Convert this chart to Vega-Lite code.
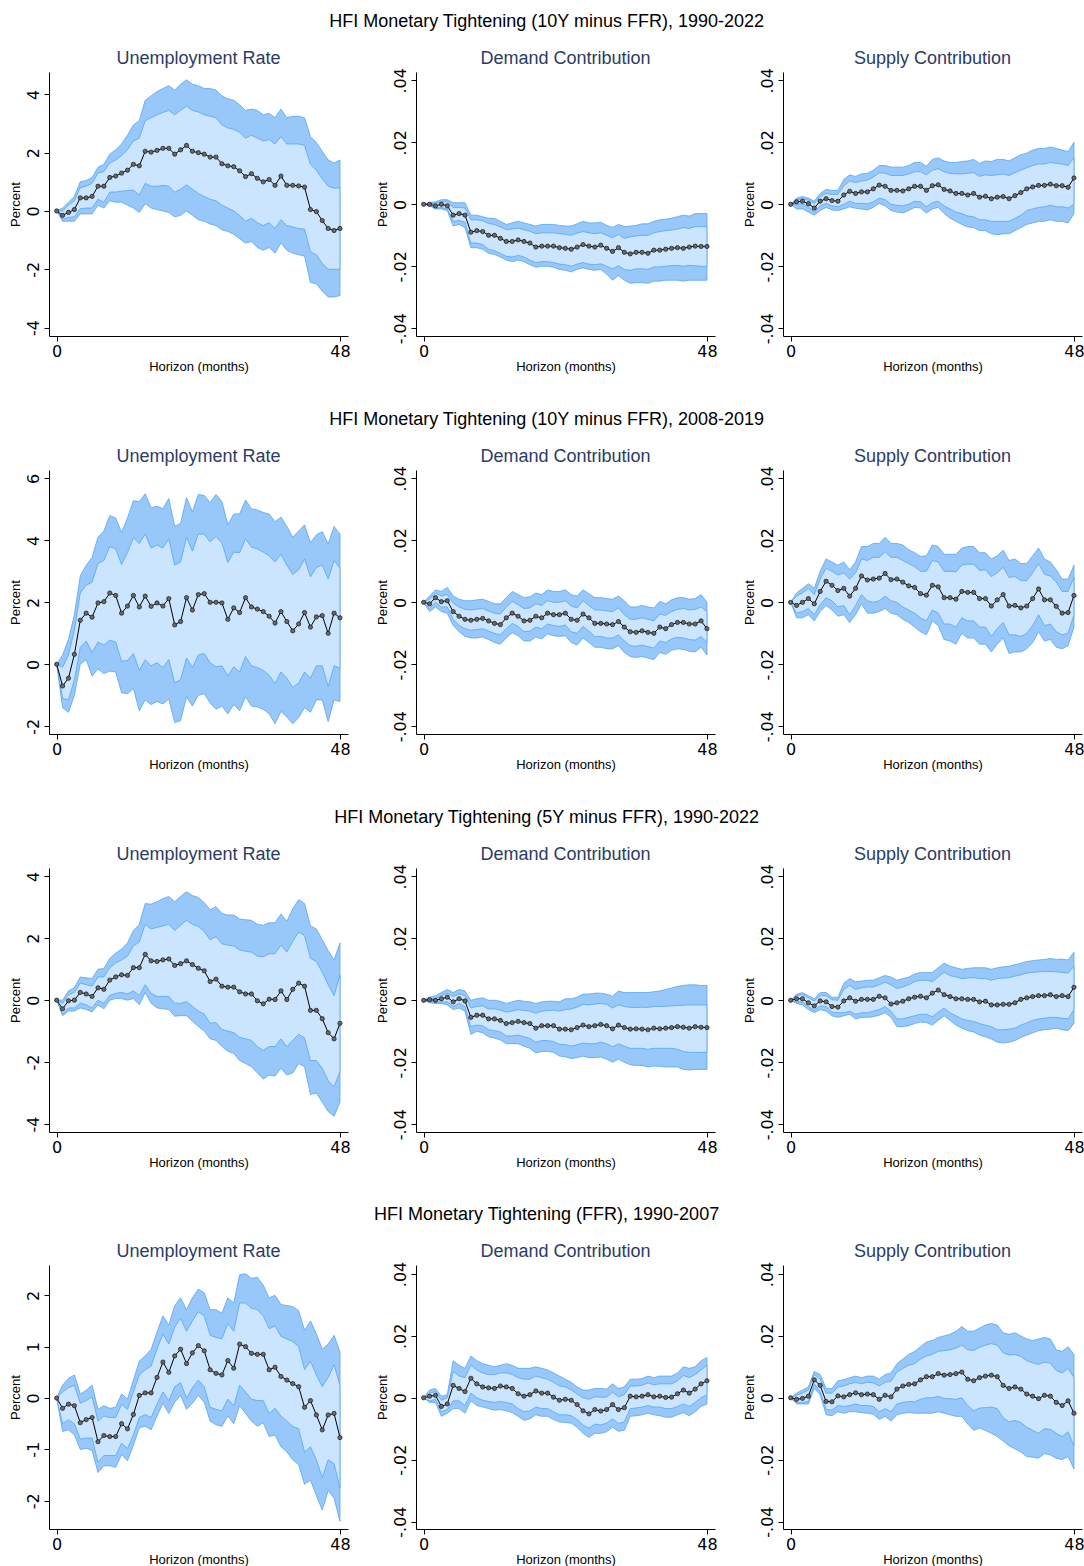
{
"$schema": "https://vega.github.io/schema/vega-lite/v6.json",
"background": "white",
"padding": {"left": 9, "top": 12, "right": 0, "bottom": 0},
"spacing": 37,
"config": {
 "font": "Liberation Sans",
 "view": {"stroke": null},
 "axis": {"grid": false, "domainColor": "#000", "tickColor": "#000", "labelColor": "#000", "titleColor": "#000", "titleFontWeight": "normal", "titleFont": "Liberation Sans", "titleFontSize": 13, "labelFont": "DejaVu Sans", "labelFontSize": 16, "tickSize": 5, "domainWidth": 1, "tickWidth": 1},
 "axisY": {"labelAngle": -90, "labelAlign": "center", "labelBaseline": "bottom", "labelPadding": 3, "titlePadding": 3},
 "axisX": {"labelPadding": 2, "titlePadding": 1, "labelFlush": false},
 "title": {"font": "Liberation Sans", "fontWeight": "normal", "fontSize": 18, "color": "#2a3b66", "offset": 0}
},
"datasets": {
"u1": [
{"h":0,"est":0,"lo90":0,"lo68":0,"hi68":0,"hi90":0},
{"h":1,"est":-0.15,"lo90":-0.35,"lo68":-0.28,"hi68":0,"hi90":0.1},
{"h":2,"est":-0.05,"lo90":-0.35,"lo68":-0.22,"hi68":0.2,"hi90":0.3},
{"h":3,"est":0.05,"lo90":-0.35,"lo68":-0.2,"hi68":0.35,"hi90":0.5},
{"h":4,"est":0.45,"lo90":-0.1,"lo68":0.08,"hi68":0.8,"hi90":1.0},
{"h":5,"est":0.45,"lo90":-0.1,"lo68":0.1,"hi68":0.85,"hi90":1.05},
{"h":6,"est":0.5,"lo90":-0.1,"lo68":0.1,"hi68":0.95,"hi90":1.15},
{"h":7,"est":0.85,"lo90":0.2,"lo68":0.4,"hi68":1.3,"hi90":1.5},
{"h":8,"est":0.85,"lo90":0.1,"lo68":0.3,"hi68":1.35,"hi90":1.6},
{"h":9,"est":1.15,"lo90":0.35,"lo68":0.65,"hi68":1.65,"hi90":1.95},
{"h":10,"est":1.2,"lo90":0.3,"lo68":0.65,"hi68":1.75,"hi90":2.1},
{"h":11,"est":1.3,"lo90":0.3,"lo68":0.68,"hi68":1.9,"hi90":2.3},
{"h":12,"est":1.4,"lo90":0.2,"lo68":0.7,"hi68":2.1,"hi90":2.6},
{"h":13,"est":1.6,"lo90":0.1,"lo68":0.72,"hi68":2.4,"hi90":2.95},
{"h":14,"est":1.55,"lo90":-0.05,"lo68":0.55,"hi68":2.5,"hi90":3.1},
{"h":15,"est":2.05,"lo90":0.25,"lo68":0.95,"hi68":3.1,"hi90":3.8},
{"h":16,"est":2.02,"lo90":0.1,"lo68":0.85,"hi68":3.2,"hi90":3.95},
{"h":17,"est":2.08,"lo90":0.05,"lo68":0.85,"hi68":3.3,"hi90":4.1},
{"h":18,"est":2.15,"lo90":0,"lo68":0.88,"hi68":3.38,"hi90":4.2},
{"h":19,"est":2.15,"lo90":-0.05,"lo68":0.85,"hi68":3.45,"hi90":4.3},
{"h":20,"est":1.95,"lo90":-0.2,"lo68":0.65,"hi68":3.3,"hi90":4.15},
{"h":21,"est":2.1,"lo90":-0.15,"lo68":0.75,"hi68":3.45,"hi90":4.35},
{"h":22,"est":2.25,"lo90":0,"lo68":0.9,"hi68":3.6,"hi90":4.5},
{"h":23,"est":2.05,"lo90":-0.15,"lo68":0.75,"hi68":3.45,"hi90":4.35},
{"h":24,"est":2.0,"lo90":-0.3,"lo68":0.6,"hi68":3.4,"hi90":4.3},
{"h":25,"est":1.95,"lo90":-0.35,"lo68":0.5,"hi68":3.3,"hi90":4.2},
{"h":26,"est":1.85,"lo90":-0.45,"lo68":0.4,"hi68":3.25,"hi90":4.2},
{"h":27,"est":1.85,"lo90":-0.5,"lo68":0.35,"hi68":3.2,"hi90":4.15},
{"h":28,"est":1.62,"lo90":-0.65,"lo68":0.2,"hi68":2.95,"hi90":3.95},
{"h":29,"est":1.55,"lo90":-0.7,"lo68":0.1,"hi68":2.85,"hi90":3.85},
{"h":30,"est":1.52,"lo90":-0.8,"lo68":0,"hi68":2.8,"hi90":3.8},
{"h":31,"est":1.38,"lo90":-0.95,"lo68":-0.15,"hi68":2.7,"hi90":3.65},
{"h":32,"est":1.18,"lo90":-1.1,"lo68":-0.35,"hi68":2.5,"hi90":3.45},
{"h":33,"est":1.28,"lo90":-1.05,"lo68":-0.25,"hi68":2.6,"hi90":3.5},
{"h":34,"est":1.12,"lo90":-1.25,"lo68":-0.4,"hi68":2.5,"hi90":3.45},
{"h":35,"est":1.0,"lo90":-1.35,"lo68":-0.5,"hi68":2.4,"hi90":3.3},
{"h":36,"est":1.08,"lo90":-1.25,"lo68":-0.4,"hi68":2.45,"hi90":3.35},
{"h":37,"est":0.88,"lo90":-1.45,"lo68":-0.6,"hi68":2.3,"hi90":3.2},
{"h":38,"est":1.2,"lo90":-1.1,"lo68":-0.3,"hi68":2.55,"hi90":3.5},
{"h":39,"est":0.88,"lo90":-1.35,"lo68":-0.5,"hi68":2.3,"hi90":3.2},
{"h":40,"est":0.88,"lo90":-1.45,"lo68":-0.55,"hi68":2.3,"hi90":3.25},
{"h":41,"est":0.86,"lo90":-1.5,"lo68":-0.6,"hi68":2.3,"hi90":3.25},
{"h":42,"est":0.82,"lo90":-1.55,"lo68":-0.62,"hi68":2.25,"hi90":3.2},
{"h":43,"est":0.05,"lo90":-2.45,"lo68":-1.4,"hi68":1.6,"hi90":2.55},
{"h":44,"est":-0.02,"lo90":-2.5,"lo68":-1.5,"hi68":1.4,"hi90":2.35},
{"h":45,"est":-0.33,"lo90":-2.75,"lo68":-1.8,"hi68":1.1,"hi90":2.05},
{"h":46,"est":-0.6,"lo90":-2.95,"lo68":-2.0,"hi68":0.85,"hi90":1.75},
{"h":47,"est":-0.67,"lo90":-2.95,"lo68":-2.0,"hi68":0.78,"hi90":1.65},
{"h":48,"est":-0.6,"lo90":-2.9,"lo68":-2.0,"hi68":0.8,"hi90":1.75}
],
"d1": [
{"h":0,"est":0,"lo90":0,"lo68":0,"hi68":0,"hi90":0},
{"h":1,"est":0,"lo90":-0.0005,"lo68":-0.0003,"hi68":0.0002,"hi90":0.0005},
{"h":2,"est":-0.0005,"lo90":-0.0015,"lo68":-0.0012,"hi68":0.0003,"hi90":0.0008},
{"h":3,"est":0,"lo90":-0.0015,"lo68":-0.001,"hi68":0.0008,"hi90":0.0015},
{"h":4,"est":-0.0005,"lo90":-0.002,"lo68":-0.0015,"hi68":0.0008,"hi90":0.0015},
{"h":5,"est":-0.0035,"lo90":-0.007,"lo68":-0.0055,"hi68":-0.001,"hi90":0.0005},
{"h":6,"est":-0.003,"lo90":-0.0065,"lo68":-0.0052,"hi68":-0.001,"hi90":0.0005},
{"h":7,"est":-0.0035,"lo90":-0.0075,"lo68":-0.0058,"hi68":-0.0012,"hi90":0.0005},
{"h":8,"est":-0.009,"lo90":-0.014,"lo68":-0.0125,"hi68":-0.005,"hi90":-0.0035},
{"h":9,"est":-0.0085,"lo90":-0.014,"lo68":-0.0125,"hi68":-0.005,"hi90":-0.0035},
{"h":10,"est":-0.0088,"lo90":-0.0145,"lo68":-0.013,"hi68":-0.0053,"hi90":-0.004},
{"h":11,"est":-0.01,"lo90":-0.0158,"lo68":-0.0145,"hi68":-0.0062,"hi90":-0.0045},
{"h":12,"est":-0.01,"lo90":-0.0162,"lo68":-0.015,"hi68":-0.0065,"hi90":-0.0045},
{"h":13,"est":-0.011,"lo90":-0.017,"lo68":-0.0158,"hi68":-0.0073,"hi90":-0.0055},
{"h":14,"est":-0.012,"lo90":-0.018,"lo68":-0.0168,"hi68":-0.0082,"hi90":-0.0065},
{"h":15,"est":-0.012,"lo90":-0.0185,"lo68":-0.017,"hi68":-0.008,"hi90":-0.006},
{"h":16,"est":-0.0115,"lo90":-0.018,"lo68":-0.0165,"hi68":-0.0077,"hi90":-0.0055},
{"h":17,"est":-0.012,"lo90":-0.0185,"lo68":-0.017,"hi68":-0.0082,"hi90":-0.006},
{"h":18,"est":-0.0125,"lo90":-0.0195,"lo68":-0.018,"hi68":-0.0087,"hi90":-0.0065},
{"h":19,"est":-0.0138,"lo90":-0.0203,"lo68":-0.0188,"hi68":-0.0095,"hi90":-0.007},
{"h":20,"est":-0.0135,"lo90":-0.02,"lo68":-0.0185,"hi68":-0.0092,"hi90":-0.0065},
{"h":21,"est":-0.0135,"lo90":-0.02,"lo68":-0.0185,"hi68":-0.0092,"hi90":-0.0065},
{"h":22,"est":-0.0135,"lo90":-0.0203,"lo68":-0.0188,"hi68":-0.0092,"hi90":-0.0065},
{"h":23,"est":-0.014,"lo90":-0.021,"lo68":-0.0193,"hi68":-0.0095,"hi90":-0.0068},
{"h":24,"est":-0.0142,"lo90":-0.0213,"lo68":-0.0195,"hi68":-0.0097,"hi90":-0.007},
{"h":25,"est":-0.0145,"lo90":-0.0218,"lo68":-0.02,"hi68":-0.01,"hi90":-0.007},
{"h":26,"est":-0.0138,"lo90":-0.021,"lo68":-0.0193,"hi68":-0.0093,"hi90":-0.0063},
{"h":27,"est":-0.013,"lo90":-0.0205,"lo68":-0.0188,"hi68":-0.0088,"hi90":-0.0055},
{"h":28,"est":-0.0135,"lo90":-0.021,"lo68":-0.0193,"hi68":-0.0092,"hi90":-0.006},
{"h":29,"est":-0.0138,"lo90":-0.0213,"lo68":-0.0195,"hi68":-0.0095,"hi90":-0.006},
{"h":30,"est":-0.0132,"lo90":-0.021,"lo68":-0.0192,"hi68":-0.0092,"hi90":-0.0058},
{"h":31,"est":-0.0142,"lo90":-0.0225,"lo68":-0.02,"hi68":-0.01,"hi90":-0.0068},
{"h":32,"est":-0.0152,"lo90":-0.0245,"lo68":-0.0208,"hi68":-0.0108,"hi90":-0.0075},
{"h":33,"est":-0.014,"lo90":-0.023,"lo68":-0.0198,"hi68":-0.0097,"hi90":-0.0065},
{"h":34,"est":-0.0155,"lo90":-0.0245,"lo68":-0.021,"hi68":-0.011,"hi90":-0.0072},
{"h":35,"est":-0.016,"lo90":-0.0255,"lo68":-0.0213,"hi68":-0.0105,"hi90":-0.007},
{"h":36,"est":-0.0155,"lo90":-0.0253,"lo68":-0.0208,"hi68":-0.0102,"hi90":-0.0068},
{"h":37,"est":-0.0155,"lo90":-0.0253,"lo68":-0.0208,"hi68":-0.01,"hi90":-0.0063},
{"h":38,"est":-0.0158,"lo90":-0.0255,"lo68":-0.021,"hi68":-0.01,"hi90":-0.0063},
{"h":39,"est":-0.0148,"lo90":-0.0248,"lo68":-0.0202,"hi68":-0.0092,"hi90":-0.0055},
{"h":40,"est":-0.0148,"lo90":-0.0248,"lo68":-0.0202,"hi68":-0.0088,"hi90":-0.005},
{"h":41,"est":-0.0145,"lo90":-0.0245,"lo68":-0.02,"hi68":-0.0085,"hi90":-0.0048},
{"h":42,"est":-0.0142,"lo90":-0.0245,"lo68":-0.0198,"hi68":-0.0083,"hi90":-0.0045},
{"h":43,"est":-0.014,"lo90":-0.0245,"lo68":-0.0197,"hi68":-0.008,"hi90":-0.004},
{"h":44,"est":-0.0142,"lo90":-0.0248,"lo68":-0.02,"hi68":-0.0075,"hi90":-0.0035},
{"h":45,"est":-0.0138,"lo90":-0.0245,"lo68":-0.0197,"hi68":-0.0078,"hi90":-0.0038},
{"h":46,"est":-0.0135,"lo90":-0.0245,"lo68":-0.0198,"hi68":-0.0072,"hi90":-0.003},
{"h":47,"est":-0.0136,"lo90":-0.0245,"lo68":-0.02,"hi68":-0.0072,"hi90":-0.003},
{"h":48,"est":-0.0136,"lo90":-0.0245,"lo68":-0.02,"hi68":-0.0072,"hi90":-0.003}
],
"s1": [
{"h":0,"est":0,"lo90":0,"lo68":0,"hi68":0,"hi90":0},
{"h":1,"est":0.0008,"lo90":-0.0015,"lo68":0,"hi68":0.0015,"hi90":0.002},
{"h":2,"est":0.001,"lo90":-0.0015,"lo68":0.0002,"hi68":0.0018,"hi90":0.0025},
{"h":3,"est":0.0002,"lo90":-0.0025,"lo68":-0.0008,"hi68":0.0013,"hi90":0.002},
{"h":4,"est":-0.0012,"lo90":-0.0035,"lo68":-0.0025,"hi68":0.0003,"hi90":0.001},
{"h":5,"est":0.001,"lo90":-0.002,"lo68":-0.0005,"hi68":0.0025,"hi90":0.0035},
{"h":6,"est":0.0018,"lo90":-0.001,"lo68":0.0003,"hi68":0.0035,"hi90":0.0048},
{"h":7,"est":0.0012,"lo90":-0.0018,"lo68":-0.0005,"hi68":0.0032,"hi90":0.0045},
{"h":8,"est":0.001,"lo90":-0.002,"lo68":-0.0008,"hi68":0.0032,"hi90":0.0045},
{"h":9,"est":0.003,"lo90":-0.0015,"lo68":0,"hi68":0.006,"hi90":0.008},
{"h":10,"est":0.0042,"lo90":-0.0008,"lo68":0.001,"hi68":0.0075,"hi90":0.0095},
{"h":11,"est":0.0035,"lo90":-0.0013,"lo68":0.0003,"hi68":0.007,"hi90":0.009},
{"h":12,"est":0.004,"lo90":-0.0015,"lo68":0.0003,"hi68":0.0075,"hi90":0.0098},
{"h":13,"est":0.004,"lo90":-0.0018,"lo68":0.0002,"hi68":0.0078,"hi90":0.01},
{"h":14,"est":0.005,"lo90":-0.001,"lo68":0.0008,"hi68":0.0088,"hi90":0.011},
{"h":15,"est":0.0062,"lo90":0.0003,"lo68":0.002,"hi68":0.0102,"hi90":0.0125},
{"h":16,"est":0.0058,"lo90":-0.0005,"lo68":0.0015,"hi68":0.01,"hi90":0.0125},
{"h":17,"est":0.0045,"lo90":-0.002,"lo68":0,"hi68":0.0093,"hi90":0.012},
{"h":18,"est":0.0045,"lo90":-0.0025,"lo68":-0.0003,"hi68":0.0093,"hi90":0.012},
{"h":19,"est":0.0043,"lo90":-0.0028,"lo68":-0.0005,"hi68":0.0093,"hi90":0.012},
{"h":20,"est":0.005,"lo90":-0.002,"lo68":0,"hi68":0.0098,"hi90":0.0125},
{"h":21,"est":0.0058,"lo90":-0.001,"lo68":0.001,"hi68":0.0105,"hi90":0.0135},
{"h":22,"est":0.0058,"lo90":-0.0012,"lo68":0.0008,"hi68":0.0105,"hi90":0.0135},
{"h":23,"est":0.0045,"lo90":-0.0028,"lo68":-0.0008,"hi68":0.0095,"hi90":0.0123},
{"h":24,"est":0.006,"lo90":-0.0015,"lo68":0.0005,"hi68":0.011,"hi90":0.0145},
{"h":25,"est":0.0063,"lo90":-0.001,"lo68":0.001,"hi68":0.0115,"hi90":0.015},
{"h":26,"est":0.0048,"lo90":-0.003,"lo68":-0.0005,"hi68":0.0105,"hi90":0.014},
{"h":27,"est":0.0043,"lo90":-0.0045,"lo68":-0.0015,"hi68":0.01,"hi90":0.0135},
{"h":28,"est":0.0035,"lo90":-0.0055,"lo68":-0.0025,"hi68":0.0098,"hi90":0.0135},
{"h":29,"est":0.0035,"lo90":-0.0065,"lo68":-0.003,"hi68":0.0098,"hi90":0.0138},
{"h":30,"est":0.003,"lo90":-0.0073,"lo68":-0.0038,"hi68":0.01,"hi90":0.014},
{"h":31,"est":0.0035,"lo90":-0.0075,"lo68":-0.004,"hi68":0.0102,"hi90":0.0145},
{"h":32,"est":0.0023,"lo90":-0.0085,"lo68":-0.005,"hi68":0.009,"hi90":0.0132},
{"h":33,"est":0.0026,"lo90":-0.0085,"lo68":-0.005,"hi68":0.0095,"hi90":0.014},
{"h":34,"est":0.0018,"lo90":-0.0095,"lo68":-0.0055,"hi68":0.0093,"hi90":0.0138},
{"h":35,"est":0.0023,"lo90":-0.0098,"lo68":-0.0055,"hi68":0.0095,"hi90":0.0145},
{"h":36,"est":0.0025,"lo90":-0.0095,"lo68":-0.0055,"hi68":0.0098,"hi90":0.0145},
{"h":37,"est":0.0018,"lo90":-0.0095,"lo68":-0.0055,"hi68":0.0093,"hi90":0.014},
{"h":38,"est":0.0028,"lo90":-0.0085,"lo68":-0.0045,"hi68":0.0102,"hi90":0.015},
{"h":39,"est":0.0038,"lo90":-0.0075,"lo68":-0.0035,"hi68":0.011,"hi90":0.016},
{"h":40,"est":0.005,"lo90":-0.0065,"lo68":-0.002,"hi68":0.0118,"hi90":0.0165},
{"h":41,"est":0.0056,"lo90":-0.006,"lo68":-0.0015,"hi68":0.0125,"hi90":0.0175},
{"h":42,"est":0.0061,"lo90":-0.0055,"lo68":-0.001,"hi68":0.013,"hi90":0.018},
{"h":43,"est":0.0061,"lo90":-0.0055,"lo68":-0.0008,"hi68":0.013,"hi90":0.018},
{"h":44,"est":0.0065,"lo90":-0.005,"lo68":-0.0003,"hi68":0.0135,"hi90":0.0185},
{"h":45,"est":0.006,"lo90":-0.0055,"lo68":-0.0008,"hi68":0.0132,"hi90":0.018},
{"h":46,"est":0.006,"lo90":-0.0055,"lo68":-0.0008,"hi68":0.013,"hi90":0.0175},
{"h":47,"est":0.0055,"lo90":-0.006,"lo68":-0.0012,"hi68":0.0125,"hi90":0.017},
{"h":48,"est":0.0085,"lo90":-0.003,"lo68":0,"hi68":0.015,"hi90":0.02}
],
"u2": [
{"h":0,"est":0,"lo90":0,"lo68":0,"hi68":0,"hi90":0},
{"h":1,"est":-0.7,"lo90":-1.4,"lo68":-1.1,"hi68":-0.1,"hi90":0.3},
{"h":2,"est":-0.45,"lo90":-1.55,"lo68":-1.15,"hi68":0.3,"hi90":0.8},
{"h":3,"est":0.32,"lo90":-1.0,"lo68":-0.5,"hi68":1.1,"hi90":1.6},
{"h":4,"est":1.42,"lo90":0,"lo68":0.55,"hi68":2.3,"hi90":2.85},
{"h":5,"est":1.65,"lo90":0.15,"lo68":0.75,"hi68":2.55,"hi90":3.2},
{"h":6,"est":1.52,"lo90":-0.38,"lo68":0.38,"hi68":2.65,"hi90":3.45},
{"h":7,"est":1.98,"lo90":-0.15,"lo68":0.72,"hi68":3.25,"hi90":4.1},
{"h":8,"est":2.02,"lo90":-0.3,"lo68":0.62,"hi68":3.35,"hi90":4.3},
{"h":9,"est":2.3,"lo90":-0.22,"lo68":0.78,"hi68":3.8,"hi90":4.8},
{"h":10,"est":2.22,"lo90":-0.25,"lo68":0.72,"hi68":3.72,"hi90":4.72},
{"h":11,"est":1.65,"lo90":-0.92,"lo68":0.1,"hi68":3.22,"hi90":4.25},
{"h":12,"est":1.88,"lo90":-0.95,"lo68":0.12,"hi68":3.6,"hi90":4.72},
{"h":13,"est":2.22,"lo90":-0.78,"lo68":0.35,"hi68":4.08,"hi90":5.28},
{"h":14,"est":1.85,"lo90":-1.5,"lo68":-0.2,"hi68":3.9,"hi90":5.25},
{"h":15,"est":2.2,"lo90":-1.15,"lo68":0.15,"hi68":4.2,"hi90":5.5},
{"h":16,"est":1.87,"lo90":-1.3,"lo68":-0.05,"hi68":3.75,"hi90":5.05},
{"h":17,"est":1.98,"lo90":-1.2,"lo68":0.05,"hi68":3.85,"hi90":5.1},
{"h":18,"est":1.88,"lo90":-1.28,"lo68":-0.1,"hi68":3.75,"hi90":5.02},
{"h":19,"est":2.12,"lo90":-1.12,"lo68":0.15,"hi68":4.05,"hi90":5.35},
{"h":20,"est":1.27,"lo90":-1.88,"lo68":-0.6,"hi68":3.2,"hi90":4.45},
{"h":21,"est":1.38,"lo90":-1.82,"lo68":-0.5,"hi68":3.3,"hi90":4.55},
{"h":22,"est":2.15,"lo90":-1.05,"lo68":0.2,"hi68":4.1,"hi90":5.38},
{"h":23,"est":1.75,"lo90":-1.35,"lo68":-0.1,"hi68":3.65,"hi90":4.92},
{"h":24,"est":2.25,"lo90":-1.0,"lo68":0.3,"hi68":4.2,"hi90":5.48},
{"h":25,"est":2.28,"lo90":-0.95,"lo68":0.35,"hi68":4.2,"hi90":5.45},
{"h":26,"est":2.0,"lo90":-1.25,"lo68":0.05,"hi68":3.95,"hi90":5.22},
{"h":27,"est":2.0,"lo90":-1.45,"lo68":-0.08,"hi68":4.12,"hi90":5.48},
{"h":28,"est":1.98,"lo90":-1.35,"lo68":-0.05,"hi68":3.92,"hi90":5.25},
{"h":29,"est":1.45,"lo90":-1.6,"lo68":-0.38,"hi68":3.28,"hi90":4.5},
{"h":30,"est":1.82,"lo90":-1.3,"lo68":-0.08,"hi68":3.62,"hi90":4.85},
{"h":31,"est":1.67,"lo90":-1.5,"lo68":-0.25,"hi68":3.6,"hi90":4.85},
{"h":32,"est":2.15,"lo90":-1.05,"lo68":0.25,"hi68":4.05,"hi90":5.3},
{"h":33,"est":1.85,"lo90":-1.35,"lo68":-0.05,"hi68":3.78,"hi90":5.02},
{"h":34,"est":1.78,"lo90":-1.38,"lo68":-0.1,"hi68":3.72,"hi90":4.98},
{"h":35,"est":1.7,"lo90":-1.45,"lo68":-0.2,"hi68":3.62,"hi90":4.9},
{"h":36,"est":1.55,"lo90":-1.6,"lo68":-0.35,"hi68":3.5,"hi90":4.85},
{"h":37,"est":1.33,"lo90":-1.92,"lo68":-0.62,"hi68":3.3,"hi90":4.6},
{"h":38,"est":1.7,"lo90":-1.52,"lo68":-0.25,"hi68":3.55,"hi90":4.75},
{"h":39,"est":1.38,"lo90":-1.7,"lo68":-0.45,"hi68":3.2,"hi90":4.45},
{"h":40,"est":1.08,"lo90":-1.92,"lo68":-0.75,"hi68":2.9,"hi90":4.1},
{"h":41,"est":1.3,"lo90":-1.72,"lo68":-0.6,"hi68":3.05,"hi90":4.3},
{"h":42,"est":1.67,"lo90":-1.4,"lo68":-0.25,"hi68":3.4,"hi90":4.5},
{"h":43,"est":1.2,"lo90":-1.55,"lo68":-0.45,"hi68":2.82,"hi90":3.92},
{"h":44,"est":1.53,"lo90":-1.15,"lo68":-0.05,"hi68":3.12,"hi90":4.18},
{"h":45,"est":1.57,"lo90":-1.15,"lo68":-0.05,"hi68":3.2,"hi90":4.28},
{"h":46,"est":1.0,"lo90":-1.85,"lo68":-0.72,"hi68":2.75,"hi90":3.88},
{"h":47,"est":1.65,"lo90":-1.15,"lo68":-0.05,"hi68":3.35,"hi90":4.45},
{"h":48,"est":1.5,"lo90":-1.2,"lo68":-0.12,"hi68":3.1,"hi90":4.2}
],
"d2": [
{"h":0,"est":0,"lo90":0,"lo68":0,"hi68":0,"hi90":0},
{"h":1,"est":-0.0005,"lo90":-0.003,"lo68":-0.002,"hi68":0.001,"hi90":0.002},
{"h":2,"est":0.0015,"lo90":-0.0015,"lo68":0,"hi68":0.003,"hi90":0.004},
{"h":3,"est":0.0002,"lo90":-0.003,"lo68":-0.0015,"hi68":0.002,"hi90":0.0035},
{"h":4,"est":0.0005,"lo90":-0.0035,"lo68":-0.0015,"hi68":0.0025,"hi90":0.0048},
{"h":5,"est":-0.003,"lo90":-0.0075,"lo68":-0.0055,"hi68":-0.0003,"hi90":0.002},
{"h":6,"est":-0.0045,"lo90":-0.0095,"lo68":-0.0075,"hi68":-0.0015,"hi90":0.001},
{"h":7,"est":-0.0055,"lo90":-0.011,"lo68":-0.0085,"hi68":-0.0023,"hi90":0.0005},
{"h":8,"est":-0.0058,"lo90":-0.0115,"lo68":-0.009,"hi68":-0.0025,"hi90":0.0005},
{"h":9,"est":-0.0055,"lo90":-0.0115,"lo68":-0.0088,"hi68":-0.0022,"hi90":0.0008},
{"h":10,"est":-0.0052,"lo90":-0.0112,"lo68":-0.0085,"hi68":-0.002,"hi90":0.001},
{"h":11,"est":-0.006,"lo90":-0.012,"lo68":-0.0093,"hi68":-0.0028,"hi90":0.0003},
{"h":12,"est":-0.0068,"lo90":-0.013,"lo68":-0.01,"hi68":-0.0035,"hi90":-0.0005},
{"h":13,"est":-0.0072,"lo90":-0.0135,"lo68":-0.0105,"hi68":-0.0038,"hi90":-0.0005},
{"h":14,"est":-0.005,"lo90":-0.0115,"lo68":-0.0085,"hi68":-0.0015,"hi90":0.0015},
{"h":15,"est":-0.0035,"lo90":-0.0098,"lo68":-0.0068,"hi68":0.0003,"hi90":0.0035},
{"h":16,"est":-0.0045,"lo90":-0.0108,"lo68":-0.0078,"hi68":-0.0008,"hi90":0.0025},
{"h":17,"est":-0.006,"lo90":-0.0125,"lo68":-0.0095,"hi68":-0.002,"hi90":0.0015},
{"h":18,"est":-0.0058,"lo90":-0.0125,"lo68":-0.0093,"hi68":-0.0018,"hi90":0.0018},
{"h":19,"est":-0.0045,"lo90":-0.0112,"lo68":-0.008,"hi68":-0.0005,"hi90":0.003},
{"h":20,"est":-0.005,"lo90":-0.0118,"lo68":-0.0085,"hi68":-0.001,"hi90":0.0025},
{"h":21,"est":-0.0035,"lo90":-0.0102,"lo68":-0.007,"hi68":0.0005,"hi90":0.004},
{"h":22,"est":-0.004,"lo90":-0.0108,"lo68":-0.0075,"hi68":0,"hi90":0.0035},
{"h":23,"est":-0.004,"lo90":-0.011,"lo68":-0.0078,"hi68":0,"hi90":0.0035},
{"h":24,"est":-0.0035,"lo90":-0.0108,"lo68":-0.0073,"hi68":0.0005,"hi90":0.004},
{"h":25,"est":-0.0055,"lo90":-0.013,"lo68":-0.0095,"hi68":-0.0012,"hi90":0.0025},
{"h":26,"est":-0.0058,"lo90":-0.0138,"lo68":-0.01,"hi68":-0.0018,"hi90":0.002},
{"h":27,"est":-0.0038,"lo90":-0.0115,"lo68":-0.0078,"hi68":0.0005,"hi90":0.004},
{"h":28,"est":-0.005,"lo90":-0.013,"lo68":-0.0093,"hi68":-0.001,"hi90":0.0028},
{"h":29,"est":-0.0068,"lo90":-0.0145,"lo68":-0.011,"hi68":-0.0025,"hi90":0.0015},
{"h":30,"est":-0.0068,"lo90":-0.0145,"lo68":-0.011,"hi68":-0.0025,"hi90":0.0015},
{"h":31,"est":-0.007,"lo90":-0.015,"lo68":-0.0115,"hi68":-0.0028,"hi90":0.0012},
{"h":32,"est":-0.0072,"lo90":-0.015,"lo68":-0.0115,"hi68":-0.003,"hi90":0.001},
{"h":33,"est":-0.0062,"lo90":-0.014,"lo68":-0.0105,"hi68":-0.0018,"hi90":0.002},
{"h":34,"est":-0.008,"lo90":-0.0162,"lo68":-0.0125,"hi68":-0.004,"hi90":0.0005},
{"h":35,"est":-0.0095,"lo90":-0.0175,"lo68":-0.014,"hi68":-0.0055,"hi90":-0.0015},
{"h":36,"est":-0.0097,"lo90":-0.0178,"lo68":-0.0142,"hi68":-0.0055,"hi90":-0.0015},
{"h":37,"est":-0.0092,"lo90":-0.0175,"lo68":-0.0138,"hi68":-0.005,"hi90":-0.001},
{"h":38,"est":-0.0097,"lo90":-0.018,"lo68":-0.0143,"hi68":-0.0055,"hi90":-0.0015},
{"h":39,"est":-0.01,"lo90":-0.0185,"lo68":-0.0148,"hi68":-0.006,"hi90":-0.0018},
{"h":40,"est":-0.008,"lo90":-0.0162,"lo68":-0.0125,"hi68":-0.0038,"hi90":0.0003},
{"h":41,"est":-0.0085,"lo90":-0.0168,"lo68":-0.013,"hi68":-0.0042,"hi90":-0.0005},
{"h":42,"est":-0.0072,"lo90":-0.0155,"lo68":-0.0118,"hi68":-0.003,"hi90":0.0008},
{"h":43,"est":-0.0065,"lo90":-0.015,"lo68":-0.0113,"hi68":-0.0023,"hi90":0.0015},
{"h":44,"est":-0.0065,"lo90":-0.0152,"lo68":-0.0115,"hi68":-0.002,"hi90":0.0015},
{"h":45,"est":-0.007,"lo90":-0.0158,"lo68":-0.012,"hi68":-0.0025,"hi90":0.001},
{"h":46,"est":-0.007,"lo90":-0.016,"lo68":-0.0122,"hi68":-0.0023,"hi90":0.0012},
{"h":47,"est":-0.006,"lo90":-0.0145,"lo68":-0.011,"hi68":-0.0015,"hi90":0.0025},
{"h":48,"est":-0.0085,"lo90":-0.017,"lo68":-0.013,"hi68":-0.003,"hi90":0}
],
"s2": [
{"h":0,"est":0,"lo90":0,"lo68":0,"hi68":0,"hi90":0},
{"h":1,"est":-0.001,"lo90":-0.005,"lo68":-0.0035,"hi68":0.002,"hi90":0.003},
{"h":2,"est":0,"lo90":-0.005,"lo68":-0.003,"hi68":0.003,"hi90":0.0045},
{"h":3,"est":0.0012,"lo90":-0.004,"lo68":-0.002,"hi68":0.0045,"hi90":0.006},
{"h":4,"est":-0.0005,"lo90":-0.006,"lo68":-0.004,"hi68":0.0025,"hi90":0.0045},
{"h":5,"est":0.0035,"lo90":-0.003,"lo68":-0.0008,"hi68":0.0075,"hi90":0.01},
{"h":6,"est":0.0068,"lo90":-0.001,"lo68":0.0015,"hi68":0.011,"hi90":0.014},
{"h":7,"est":0.0055,"lo90":-0.0025,"lo68":0.0005,"hi68":0.01,"hi90":0.013},
{"h":8,"est":0.0038,"lo90":-0.0045,"lo68":-0.0015,"hi68":0.0088,"hi90":0.012},
{"h":9,"est":0.0045,"lo90":-0.004,"lo68":-0.001,"hi68":0.0095,"hi90":0.013},
{"h":10,"est":0.002,"lo90":-0.0065,"lo68":-0.004,"hi68":0.0075,"hi90":0.0105},
{"h":11,"est":0.0045,"lo90":-0.004,"lo68":-0.001,"hi68":0.0095,"hi90":0.013},
{"h":12,"est":0.0085,"lo90":-0.0005,"lo68":0.0025,"hi68":0.014,"hi90":0.018},
{"h":13,"est":0.0072,"lo90":-0.0035,"lo68":0.0005,"hi68":0.0135,"hi90":0.018},
{"h":14,"est":0.0075,"lo90":-0.0035,"lo68":0,"hi68":0.0145,"hi90":0.019},
{"h":15,"est":0.0078,"lo90":-0.003,"lo68":0.0005,"hi68":0.0145,"hi90":0.019},
{"h":16,"est":0.0093,"lo90":-0.002,"lo68":0.002,"hi68":0.0163,"hi90":0.021},
{"h":17,"est":0.0073,"lo90":-0.0035,"lo68":0.0005,"hi68":0.0145,"hi90":0.019},
{"h":18,"est":0.0075,"lo90":-0.004,"lo68":0,"hi68":0.0145,"hi90":0.019},
{"h":19,"est":0.0065,"lo90":-0.0055,"lo68":-0.0015,"hi68":0.0135,"hi90":0.0185},
{"h":20,"est":0.0053,"lo90":-0.0065,"lo68":-0.0025,"hi68":0.0125,"hi90":0.017},
{"h":21,"est":0.0048,"lo90":-0.008,"lo68":-0.0035,"hi68":0.0115,"hi90":0.016},
{"h":22,"est":0.0028,"lo90":-0.0095,"lo68":-0.005,"hi68":0.01,"hi90":0.0148},
{"h":23,"est":0.0023,"lo90":-0.0105,"lo68":-0.006,"hi68":0.01,"hi90":0.015},
{"h":24,"est":0.0055,"lo90":-0.006,"lo68":-0.0025,"hi68":0.0135,"hi90":0.0185},
{"h":25,"est":0.005,"lo90":-0.0075,"lo68":-0.0035,"hi68":0.013,"hi90":0.018},
{"h":26,"est":0.0015,"lo90":-0.012,"lo68":-0.007,"hi68":0.01,"hi90":0.0155},
{"h":27,"est":0.0015,"lo90":-0.0125,"lo68":-0.007,"hi68":0.01,"hi90":0.0155},
{"h":28,"est":0.001,"lo90":-0.0135,"lo68":-0.008,"hi68":0.0098,"hi90":0.0155},
{"h":29,"est":0.0035,"lo90":-0.01,"lo68":-0.005,"hi68":0.012,"hi90":0.0175},
{"h":30,"est":0.0032,"lo90":-0.0115,"lo68":-0.006,"hi68":0.0123,"hi90":0.018},
{"h":31,"est":0.0032,"lo90":-0.0115,"lo68":-0.006,"hi68":0.0123,"hi90":0.018},
{"h":32,"est":0.0012,"lo90":-0.0135,"lo68":-0.008,"hi68":0.0103,"hi90":0.016},
{"h":33,"est":0.0012,"lo90":-0.0135,"lo68":-0.008,"hi68":0.0105,"hi90":0.016},
{"h":34,"est":-0.0012,"lo90":-0.016,"lo68":-0.011,"hi68":0.0083,"hi90":0.014},
{"h":35,"est":0.0008,"lo90":-0.0135,"lo68":-0.0085,"hi68":0.0095,"hi90":0.015},
{"h":36,"est":0.0025,"lo90":-0.0115,"lo68":-0.0065,"hi68":0.0113,"hi90":0.0168},
{"h":37,"est":-0.0012,"lo90":-0.0165,"lo68":-0.0105,"hi68":0.008,"hi90":0.0135},
{"h":38,"est":-0.001,"lo90":-0.016,"lo68":-0.0105,"hi68":0.0083,"hi90":0.014},
{"h":39,"est":-0.0018,"lo90":-0.016,"lo68":-0.011,"hi68":0.007,"hi90":0.0125},
{"h":40,"est":-0.0012,"lo90":-0.015,"lo68":-0.01,"hi68":0.007,"hi90":0.0125},
{"h":41,"est":0.0012,"lo90":-0.013,"lo68":-0.0075,"hi68":0.0095,"hi90":0.015},
{"h":42,"est":0.0043,"lo90":-0.0095,"lo68":-0.004,"hi68":0.0125,"hi90":0.0175},
{"h":43,"est":0.0008,"lo90":-0.0125,"lo68":-0.0075,"hi68":0.009,"hi90":0.014},
{"h":44,"est":0.0008,"lo90":-0.012,"lo68":-0.007,"hi68":0.0085,"hi90":0.013},
{"h":45,"est":-0.0013,"lo90":-0.0145,"lo68":-0.0095,"hi68":0.0065,"hi90":0.0105},
{"h":46,"est":-0.0035,"lo90":-0.015,"lo68":-0.0105,"hi68":0.0035,"hi90":0.0075},
{"h":47,"est":-0.0033,"lo90":-0.014,"lo68":-0.01,"hi68":0.0035,"hi90":0.0075},
{"h":48,"est":0.0022,"lo90":-0.008,"lo68":-0.004,"hi68":0.008,"hi90":0.012}
],
"u3": [
{"h":0,"est":0,"lo90":0,"lo68":0,"hi68":0,"hi90":0},
{"h":1,"est":-0.28,"lo90":-0.5,"lo68":-0.45,"hi68":-0.1,"hi90":0},
{"h":2,"est":-0.02,"lo90":-0.35,"lo68":-0.25,"hi68":0.18,"hi90":0.3},
{"h":3,"est":0,"lo90":-0.35,"lo68":-0.25,"hi68":0.25,"hi90":0.4},
{"h":4,"est":0.25,"lo90":-0.25,"lo68":-0.1,"hi68":0.55,"hi90":0.75},
{"h":5,"est":0.2,"lo90":-0.3,"lo68":-0.15,"hi68":0.5,"hi90":0.72},
{"h":6,"est":0.12,"lo90":-0.38,"lo68":-0.25,"hi68":0.45,"hi90":0.7},
{"h":7,"est":0.4,"lo90":-0.15,"lo68":0,"hi68":0.75,"hi90":1.0},
{"h":8,"est":0.35,"lo90":-0.28,"lo68":-0.1,"hi68":0.75,"hi90":1.02},
{"h":9,"est":0.65,"lo90":0,"lo68":0.15,"hi68":1.05,"hi90":1.35},
{"h":10,"est":0.75,"lo90":0.05,"lo68":0.22,"hi68":1.2,"hi90":1.52},
{"h":11,"est":0.82,"lo90":0.05,"lo68":0.25,"hi68":1.3,"hi90":1.65},
{"h":12,"est":0.8,"lo90":0,"lo68":0.2,"hi68":1.42,"hi90":1.85},
{"h":13,"est":1.05,"lo90":0.05,"lo68":0.3,"hi68":1.75,"hi90":2.25},
{"h":14,"est":1.05,"lo90":-0.15,"lo68":0.15,"hi68":1.88,"hi90":2.45},
{"h":15,"est":1.48,"lo90":0.25,"lo68":0.5,"hi68":2.45,"hi90":3.12},
{"h":16,"est":1.27,"lo90":-0.1,"lo68":0.22,"hi68":2.3,"hi90":3.1},
{"h":17,"est":1.25,"lo90":-0.25,"lo68":0.12,"hi68":2.35,"hi90":3.18},
{"h":18,"est":1.3,"lo90":-0.28,"lo68":0.12,"hi68":2.4,"hi90":3.28},
{"h":19,"est":1.33,"lo90":-0.3,"lo68":0.12,"hi68":2.45,"hi90":3.35},
{"h":20,"est":1.12,"lo90":-0.52,"lo68":-0.1,"hi68":2.25,"hi90":3.18},
{"h":21,"est":1.18,"lo90":-0.5,"lo68":-0.1,"hi68":2.42,"hi90":3.35},
{"h":22,"est":1.27,"lo90":-0.5,"lo68":-0.05,"hi68":2.58,"hi90":3.5},
{"h":23,"est":1.15,"lo90":-0.68,"lo68":-0.2,"hi68":2.45,"hi90":3.38},
{"h":24,"est":1.03,"lo90":-0.85,"lo68":-0.35,"hi68":2.38,"hi90":3.32},
{"h":25,"est":0.95,"lo90":-1.0,"lo68":-0.45,"hi68":2.22,"hi90":3.15},
{"h":26,"est":0.6,"lo90":-1.25,"lo68":-0.75,"hi68":1.95,"hi90":2.92},
{"h":27,"est":0.68,"lo90":-1.3,"lo68":-0.72,"hi68":2.05,"hi90":3.02},
{"h":28,"est":0.45,"lo90":-1.5,"lo68":-0.95,"hi68":1.82,"hi90":2.8},
{"h":29,"est":0.42,"lo90":-1.65,"lo68":-1.0,"hi68":1.78,"hi90":2.75},
{"h":30,"est":0.42,"lo90":-1.72,"lo68":-1.05,"hi68":1.75,"hi90":2.75},
{"h":31,"est":0.27,"lo90":-1.95,"lo68":-1.2,"hi68":1.62,"hi90":2.62},
{"h":32,"est":0.2,"lo90":-2.05,"lo68":-1.25,"hi68":1.58,"hi90":2.6},
{"h":33,"est":0.2,"lo90":-2.15,"lo68":-1.3,"hi68":1.55,"hi90":2.58},
{"h":34,"est":-0.02,"lo90":-2.35,"lo68":-1.5,"hi68":1.42,"hi90":2.45},
{"h":35,"est":-0.12,"lo90":-2.55,"lo68":-1.62,"hi68":1.4,"hi90":2.42},
{"h":36,"est":0.03,"lo90":-2.42,"lo68":-1.5,"hi68":1.5,"hi90":2.5},
{"h":37,"est":0.02,"lo90":-2.45,"lo68":-1.5,"hi68":1.5,"hi90":2.5},
{"h":38,"est":0.3,"lo90":-2.2,"lo68":-1.25,"hi68":1.78,"hi90":2.78},
{"h":39,"est":0.02,"lo90":-2.42,"lo68":-1.5,"hi68":1.55,"hi90":2.55},
{"h":40,"est":0.35,"lo90":-2.35,"lo68":-1.3,"hi68":1.9,"hi90":2.95},
{"h":41,"est":0.55,"lo90":-2.05,"lo68":-1.1,"hi68":2.2,"hi90":3.25},
{"h":42,"est":0.45,"lo90":-2.15,"lo68":-1.22,"hi68":2.08,"hi90":3.12},
{"h":43,"est":-0.33,"lo90":-3.05,"lo68":-1.95,"hi68":1.35,"hi90":2.4},
{"h":44,"est":-0.33,"lo90":-3.0,"lo68":-1.95,"hi68":1.25,"hi90":2.3},
{"h":45,"est":-0.6,"lo90":-3.3,"lo68":-2.2,"hi68":0.9,"hi90":1.95},
{"h":46,"est":-1.05,"lo90":-3.6,"lo68":-2.6,"hi68":0.5,"hi90":1.6},
{"h":47,"est":-1.25,"lo90":-3.75,"lo68":-2.8,"hi68":0.15,"hi90":1.3},
{"h":48,"est":-0.75,"lo90":-3.3,"lo68":-2.3,"hi68":0.8,"hi90":1.85}
],
"d3": [
{"h":0,"est":0,"lo90":0,"lo68":0,"hi68":0,"hi90":0},
{"h":1,"est":0.0002,"lo90":-0.0008,"lo68":-0.0003,"hi68":0.0005,"hi90":0.001},
{"h":2,"est":0,"lo90":-0.001,"lo68":-0.0005,"hi68":0.0005,"hi90":0.0015},
{"h":3,"est":0.0005,"lo90":-0.001,"lo68":-0.0005,"hi68":0.0015,"hi90":0.0025},
{"h":4,"est":0.001,"lo90":-0.0015,"lo68":-0.0005,"hi68":0.0023,"hi90":0.0035},
{"h":5,"est":-0.0005,"lo90":-0.003,"lo68":-0.002,"hi68":0.0012,"hi90":0.0025},
{"h":6,"est":0.0005,"lo90":-0.0025,"lo68":-0.001,"hi68":0.002,"hi90":0.0035},
{"h":7,"est":-0.0002,"lo90":-0.0035,"lo68":-0.002,"hi68":0.0015,"hi90":0.003},
{"h":8,"est":-0.0055,"lo90":-0.011,"lo68":-0.0085,"hi68":-0.0025,"hi90":0},
{"h":9,"est":-0.0048,"lo90":-0.01,"lo68":-0.008,"hi68":-0.002,"hi90":0.0005},
{"h":10,"est":-0.0048,"lo90":-0.0105,"lo68":-0.0082,"hi68":-0.0018,"hi90":0.0008},
{"h":11,"est":-0.006,"lo90":-0.0118,"lo68":-0.0095,"hi68":-0.0028,"hi90":0},
{"h":12,"est":-0.006,"lo90":-0.0122,"lo68":-0.0098,"hi68":-0.0028,"hi90":0},
{"h":13,"est":-0.0065,"lo90":-0.0128,"lo68":-0.0102,"hi68":-0.0032,"hi90":-0.0003},
{"h":14,"est":-0.0075,"lo90":-0.014,"lo68":-0.0115,"hi68":-0.0038,"hi90":-0.001},
{"h":15,"est":-0.0072,"lo90":-0.014,"lo68":-0.0115,"hi68":-0.0035,"hi90":-0.0005},
{"h":16,"est":-0.0068,"lo90":-0.014,"lo68":-0.0112,"hi68":-0.003,"hi90":0},
{"h":17,"est":-0.0072,"lo90":-0.0148,"lo68":-0.0118,"hi68":-0.0033,"hi90":-0.0003},
{"h":18,"est":-0.0075,"lo90":-0.0155,"lo68":-0.0123,"hi68":-0.0035,"hi90":-0.0005},
{"h":19,"est":-0.009,"lo90":-0.017,"lo68":-0.0135,"hi68":-0.0042,"hi90":-0.001},
{"h":20,"est":-0.0082,"lo90":-0.0165,"lo68":-0.013,"hi68":-0.0035,"hi90":-0.0005},
{"h":21,"est":-0.0082,"lo90":-0.0165,"lo68":-0.013,"hi68":-0.0033,"hi90":-0.0003},
{"h":22,"est":-0.0082,"lo90":-0.0168,"lo68":-0.0133,"hi68":-0.0032,"hi90":-0.0003},
{"h":23,"est":-0.0093,"lo90":-0.018,"lo68":-0.0142,"hi68":-0.0035,"hi90":-0.0005},
{"h":24,"est":-0.0093,"lo90":-0.0182,"lo68":-0.0143,"hi68":-0.003,"hi90":0.0005},
{"h":25,"est":-0.0095,"lo90":-0.0188,"lo68":-0.0148,"hi68":-0.0028,"hi90":0.0005},
{"h":26,"est":-0.0088,"lo90":-0.0185,"lo68":-0.0143,"hi68":-0.0022,"hi90":0.001},
{"h":27,"est":-0.008,"lo90":-0.018,"lo68":-0.0138,"hi68":-0.0013,"hi90":0.002},
{"h":28,"est":-0.0085,"lo90":-0.0185,"lo68":-0.014,"hi68":-0.0015,"hi90":0.002},
{"h":29,"est":-0.0082,"lo90":-0.0185,"lo68":-0.014,"hi68":-0.0012,"hi90":0.0023},
{"h":30,"est":-0.0078,"lo90":-0.0183,"lo68":-0.0135,"hi68":-0.001,"hi90":0.0023},
{"h":31,"est":-0.0082,"lo90":-0.019,"lo68":-0.014,"hi68":-0.0013,"hi90":0.002},
{"h":32,"est":-0.0092,"lo90":-0.02,"lo68":-0.015,"hi68":-0.0025,"hi90":0.0013},
{"h":33,"est":-0.008,"lo90":-0.019,"lo68":-0.014,"hi68":-0.0015,"hi90":0.003},
{"h":34,"est":-0.0088,"lo90":-0.02,"lo68":-0.0148,"hi68":-0.002,"hi90":0.0025},
{"h":35,"est":-0.0093,"lo90":-0.0208,"lo68":-0.0155,"hi68":-0.0023,"hi90":0.0025},
{"h":36,"est":-0.0092,"lo90":-0.021,"lo68":-0.0155,"hi68":-0.0023,"hi90":0.0025},
{"h":37,"est":-0.0093,"lo90":-0.021,"lo68":-0.0155,"hi68":-0.0022,"hi90":0.0025},
{"h":38,"est":-0.0095,"lo90":-0.0215,"lo68":-0.0158,"hi68":-0.0023,"hi90":0.0025},
{"h":39,"est":-0.009,"lo90":-0.0212,"lo68":-0.0155,"hi68":-0.002,"hi90":0.0028},
{"h":40,"est":-0.0092,"lo90":-0.0213,"lo68":-0.0155,"hi68":-0.002,"hi90":0.003},
{"h":41,"est":-0.009,"lo90":-0.0215,"lo68":-0.0155,"hi68":-0.0019,"hi90":0.0035},
{"h":42,"est":-0.0088,"lo90":-0.0215,"lo68":-0.0155,"hi68":-0.0018,"hi90":0.004},
{"h":43,"est":-0.0085,"lo90":-0.0215,"lo68":-0.0158,"hi68":-0.0017,"hi90":0.0045},
{"h":44,"est":-0.0087,"lo90":-0.0223,"lo68":-0.0165,"hi68":-0.0016,"hi90":0.0048},
{"h":45,"est":-0.009,"lo90":-0.0225,"lo68":-0.0168,"hi68":-0.0015,"hi90":0.005},
{"h":46,"est":-0.0085,"lo90":-0.0223,"lo68":-0.0168,"hi68":-0.0015,"hi90":0.005},
{"h":47,"est":-0.0087,"lo90":-0.0223,"lo68":-0.0168,"hi68":-0.0015,"hi90":0.0048},
{"h":48,"est":-0.0088,"lo90":-0.0223,"lo68":-0.0168,"hi68":-0.0015,"hi90":0.0048}
],
"s3": [
{"h":0,"est":0,"lo90":0,"lo68":0,"hi68":0,"hi90":0},
{"h":1,"est":0.0005,"lo90":-0.001,"lo68":-0.0005,"hi68":0.0015,"hi90":0.002},
{"h":2,"est":0.0005,"lo90":-0.0015,"lo68":-0.0005,"hi68":0.0018,"hi90":0.0025},
{"h":3,"est":-0.0008,"lo90":-0.003,"lo68":-0.002,"hi68":0.0008,"hi90":0.0015},
{"h":4,"est":-0.0018,"lo90":-0.004,"lo68":-0.0032,"hi68":-0.0002,"hi90":0.0005},
{"h":5,"est":-0.0002,"lo90":-0.003,"lo68":-0.0018,"hi68":0.0015,"hi90":0.0025},
{"h":6,"est":-0.0005,"lo90":-0.0035,"lo68":-0.002,"hi68":0.0015,"hi90":0.0025},
{"h":7,"est":-0.002,"lo90":-0.005,"lo68":-0.0038,"hi68":0.0002,"hi90":0.001},
{"h":8,"est":-0.0022,"lo90":-0.0055,"lo68":-0.004,"hi68":0,"hi90":0.001},
{"h":9,"est":-0.0002,"lo90":-0.005,"lo68":-0.004,"hi68":0.0035,"hi90":0.0055},
{"h":10,"est":0.0008,"lo90":-0.0045,"lo68":-0.0035,"hi68":0.0048,"hi90":0.007},
{"h":11,"est":-0.0003,"lo90":-0.006,"lo68":-0.0045,"hi68":0.0035,"hi90":0.006},
{"h":12,"est":0.0003,"lo90":-0.0055,"lo68":-0.004,"hi68":0.004,"hi90":0.0062},
{"h":13,"est":0.0003,"lo90":-0.0055,"lo68":-0.004,"hi68":0.0043,"hi90":0.0065},
{"h":14,"est":0.0003,"lo90":-0.0053,"lo68":-0.0035,"hi68":0.0043,"hi90":0.0065},
{"h":15,"est":0.0013,"lo90":-0.0048,"lo68":-0.003,"hi68":0.005,"hi90":0.0073},
{"h":16,"est":0.0008,"lo90":-0.004,"lo68":-0.002,"hi68":0.0058,"hi90":0.008},
{"h":17,"est":-0.0012,"lo90":-0.0055,"lo68":-0.0035,"hi68":0.005,"hi90":0.0075},
{"h":18,"est":-0.0008,"lo90":-0.0085,"lo68":-0.006,"hi68":0.0038,"hi90":0.0065},
{"h":19,"est":-0.0003,"lo90":-0.0085,"lo68":-0.006,"hi68":0.0043,"hi90":0.007},
{"h":20,"est":0.0005,"lo90":-0.0082,"lo68":-0.0055,"hi68":0.005,"hi90":0.0075},
{"h":21,"est":0.001,"lo90":-0.0075,"lo68":-0.005,"hi68":0.006,"hi90":0.0085},
{"h":22,"est":0.0013,"lo90":-0.007,"lo68":-0.0045,"hi68":0.0065,"hi90":0.009},
{"h":23,"est":0.0008,"lo90":-0.0072,"lo68":-0.0045,"hi68":0.0065,"hi90":0.009},
{"h":24,"est":0.0023,"lo90":-0.008,"lo68":-0.0053,"hi68":0.006,"hi90":0.009},
{"h":25,"est":0.0033,"lo90":-0.0065,"lo68":-0.0038,"hi68":0.0075,"hi90":0.0105},
{"h":26,"est":0.0018,"lo90":-0.005,"lo68":-0.0025,"hi68":0.009,"hi90":0.012},
{"h":27,"est":0.0012,"lo90":-0.0065,"lo68":-0.004,"hi68":0.008,"hi90":0.011},
{"h":28,"est":0.0005,"lo90":-0.008,"lo68":-0.005,"hi68":0.0075,"hi90":0.0105},
{"h":29,"est":0.0005,"lo90":-0.009,"lo68":-0.006,"hi68":0.007,"hi90":0.01},
{"h":30,"est":0.0003,"lo90":-0.0098,"lo68":-0.0065,"hi68":0.0072,"hi90":0.0103},
{"h":31,"est":0.0003,"lo90":-0.0102,"lo68":-0.0068,"hi68":0.0073,"hi90":0.0105},
{"h":32,"est":-0.0005,"lo90":-0.0112,"lo68":-0.0075,"hi68":0.007,"hi90":0.0105},
{"h":33,"est":-0.0003,"lo90":-0.0118,"lo68":-0.008,"hi68":0.007,"hi90":0.0105},
{"h":34,"est":-0.0015,"lo90":-0.0125,"lo68":-0.0085,"hi68":0.0065,"hi90":0.01},
{"h":35,"est":-0.0015,"lo90":-0.0135,"lo68":-0.0095,"hi68":0.007,"hi90":0.0105},
{"h":36,"est":-0.0013,"lo90":-0.0138,"lo68":-0.0095,"hi68":0.0072,"hi90":0.0108},
{"h":37,"est":-0.0013,"lo90":-0.0135,"lo68":-0.0093,"hi68":0.0073,"hi90":0.011},
{"h":38,"est":-0.0008,"lo90":-0.013,"lo68":-0.009,"hi68":0.0078,"hi90":0.0115},
{"h":39,"est":0.0003,"lo90":-0.012,"lo68":-0.008,"hi68":0.0082,"hi90":0.012},
{"h":40,"est":0.0008,"lo90":-0.0112,"lo68":-0.0073,"hi68":0.0088,"hi90":0.0125},
{"h":41,"est":0.0012,"lo90":-0.0105,"lo68":-0.0065,"hi68":0.009,"hi90":0.0128},
{"h":42,"est":0.0015,"lo90":-0.0098,"lo68":-0.006,"hi68":0.0092,"hi90":0.013},
{"h":43,"est":0.0015,"lo90":-0.0095,"lo68":-0.0058,"hi68":0.0093,"hi90":0.0132},
{"h":44,"est":0.0018,"lo90":-0.0093,"lo68":-0.0055,"hi68":0.0093,"hi90":0.0135},
{"h":45,"est":0.0012,"lo90":-0.009,"lo68":-0.0055,"hi68":0.0092,"hi90":0.0132},
{"h":46,"est":0.0015,"lo90":-0.0095,"lo68":-0.0058,"hi68":0.009,"hi90":0.0133},
{"h":47,"est":0.0012,"lo90":-0.0098,"lo68":-0.006,"hi68":0.0088,"hi90":0.013},
{"h":48,"est":0.0042,"lo90":-0.0075,"lo68":-0.003,"hi68":0.011,"hi90":0.0155}
],
"u4": [
{"h":0,"est":0,"lo90":0,"lo68":0,"hi68":0,"hi90":0},
{"h":1,"est":-0.2,"lo90":-0.65,"lo68":-0.5,"hi68":0.12,"hi90":0.25},
{"h":2,"est":-0.12,"lo90":-0.62,"lo68":-0.42,"hi68":0.2,"hi90":0.38},
{"h":3,"est":-0.15,"lo90":-0.72,"lo68":-0.5,"hi68":0.25,"hi90":0.45},
{"h":4,"est":-0.48,"lo90":-1.0,"lo68":-0.8,"hi68":-0.1,"hi90":0.08},
{"h":5,"est":-0.42,"lo90":-0.98,"lo68":-0.78,"hi68":-0.05,"hi90":0.15},
{"h":6,"est":-0.38,"lo90":-1.02,"lo68":-0.78,"hi68":0.02,"hi90":0.25},
{"h":7,"est":-0.85,"lo90":-1.45,"lo68":-1.25,"hi68":-0.45,"hi90":-0.22},
{"h":8,"est":-0.73,"lo90":-1.32,"lo68":-1.12,"hi68":-0.35,"hi90":-0.15},
{"h":9,"est":-0.75,"lo90":-1.32,"lo68":-1.12,"hi68":-0.38,"hi90":-0.2},
{"h":10,"est":-0.75,"lo90":-1.35,"lo68":-1.12,"hi68":-0.38,"hi90":-0.18},
{"h":11,"est":-0.5,"lo90":-1.1,"lo68":-0.88,"hi68":-0.12,"hi90":0.08},
{"h":12,"est":-0.6,"lo90":-1.22,"lo68":-0.98,"hi68":-0.22,"hi90":-0.02},
{"h":13,"est":-0.32,"lo90":-0.92,"lo68":-0.72,"hi68":0.12,"hi90":0.35},
{"h":14,"est":0.05,"lo90":-0.58,"lo68":-0.38,"hi68":0.45,"hi90":0.72},
{"h":15,"est":0.1,"lo90":-0.55,"lo68":-0.32,"hi68":0.55,"hi90":0.82},
{"h":16,"est":0.1,"lo90":-0.62,"lo68":-0.38,"hi68":0.62,"hi90":0.95},
{"h":17,"est":0.4,"lo90":-0.35,"lo68":-0.12,"hi68":0.95,"hi90":1.28},
{"h":18,"est":0.7,"lo90":-0.1,"lo68":0.12,"hi68":1.25,"hi90":1.6},
{"h":19,"est":0.5,"lo90":-0.3,"lo68":-0.05,"hi68":1.05,"hi90":1.42},
{"h":20,"est":0.82,"lo90":-0.08,"lo68":0.22,"hi68":1.38,"hi90":1.8},
{"h":21,"est":0.95,"lo90":0.05,"lo68":0.3,"hi68":1.55,"hi90":1.95},
{"h":22,"est":0.67,"lo90":-0.22,"lo68":0,"hi68":1.3,"hi90":1.72},
{"h":23,"est":0.88,"lo90":-0.1,"lo68":0.2,"hi68":1.5,"hi90":1.95},
{"h":24,"est":1.02,"lo90":0.05,"lo68":0.35,"hi68":1.68,"hi90":2.12},
{"h":25,"est":0.92,"lo90":-0.08,"lo68":0.22,"hi68":1.6,"hi90":2.05},
{"h":26,"est":0.55,"lo90":-0.45,"lo68":-0.18,"hi68":1.22,"hi90":1.72},
{"h":27,"est":0.48,"lo90":-0.52,"lo68":-0.22,"hi68":1.18,"hi90":1.72},
{"h":28,"est":0.45,"lo90":-0.55,"lo68":-0.25,"hi68":1.15,"hi90":1.65},
{"h":29,"est":0.73,"lo90":-0.35,"lo68":-0.02,"hi68":1.45,"hi90":1.95},
{"h":30,"est":0.58,"lo90":-0.5,"lo68":-0.15,"hi68":1.3,"hi90":1.85},
{"h":31,"est":1.05,"lo90":-0.15,"lo68":0.25,"hi68":1.85,"hi90":2.4},
{"h":32,"est":1.0,"lo90":-0.3,"lo68":0.12,"hi68":1.85,"hi90":2.42},
{"h":33,"est":0.87,"lo90":-0.45,"lo68":-0.02,"hi68":1.75,"hi90":2.33},
{"h":34,"est":0.85,"lo90":-0.55,"lo68":-0.05,"hi68":1.72,"hi90":2.35},
{"h":35,"est":0.85,"lo90":-0.48,"lo68":-0.05,"hi68":1.6,"hi90":2.2},
{"h":36,"est":0.55,"lo90":-0.75,"lo68":-0.3,"hi68":1.35,"hi90":1.95},
{"h":37,"est":0.6,"lo90":-0.72,"lo68":-0.2,"hi68":1.4,"hi90":2.0},
{"h":38,"est":0.42,"lo90":-0.95,"lo68":-0.35,"hi68":1.2,"hi90":1.82},
{"h":39,"est":0.35,"lo90":-1.05,"lo68":-0.45,"hi68":1.15,"hi90":1.8},
{"h":40,"est":0.28,"lo90":-1.2,"lo68":-0.55,"hi68":1.1,"hi90":1.78},
{"h":41,"est":0.22,"lo90":-1.3,"lo68":-0.6,"hi68":1.0,"hi90":1.7},
{"h":42,"est":-0.18,"lo90":-1.68,"lo68":-1.05,"hi68":0.55,"hi90":1.32},
{"h":43,"est":-0.05,"lo90":-1.6,"lo68":-0.95,"hi68":0.72,"hi90":1.5},
{"h":44,"est":-0.33,"lo90":-1.9,"lo68":-1.2,"hi68":0.45,"hi90":1.25},
{"h":45,"est":-0.62,"lo90":-2.18,"lo68":-1.55,"hi68":0.22,"hi90":0.95},
{"h":46,"est":-0.33,"lo90":-1.8,"lo68":-1.2,"hi68":0.4,"hi90":1.05},
{"h":47,"est":-0.3,"lo90":-1.95,"lo68":-1.28,"hi68":0.65,"hi90":1.22},
{"h":48,"est":-0.77,"lo90":-2.4,"lo68":-1.75,"hi68":0.25,"hi90":0.9}
],
"d4": [
{"h":0,"est":0,"lo90":0,"lo68":0,"hi68":0,"hi90":0},
{"h":1,"est":0.0005,"lo90":-0.0015,"lo68":-0.001,"hi68":0.0015,"hi90":0.0025},
{"h":2,"est":0.0008,"lo90":-0.0015,"lo68":-0.0005,"hi68":0.002,"hi90":0.003},
{"h":3,"est":-0.0028,"lo90":-0.006,"lo68":-0.0045,"hi68":-0.0008,"hi90":0.0005},
{"h":4,"est":-0.002,"lo90":-0.005,"lo68":-0.0038,"hi68":0,"hi90":0.001},
{"h":5,"est":0.004,"lo90":-0.0035,"lo68":-0.001,"hi68":0.0085,"hi90":0.012},
{"h":6,"est":0.003,"lo90":-0.0035,"lo68":-0.001,"hi68":0.007,"hi90":0.0105},
{"h":7,"est":0.002,"lo90":-0.005,"lo68":-0.0025,"hi68":0.0065,"hi90":0.0095},
{"h":8,"est":0.0063,"lo90":-0.001,"lo68":0.0015,"hi68":0.0105,"hi90":0.0135},
{"h":9,"est":0.0045,"lo90":-0.0025,"lo68":0,"hi68":0.009,"hi90":0.012},
{"h":10,"est":0.0035,"lo90":-0.003,"lo68":-0.0008,"hi68":0.008,"hi90":0.011},
{"h":11,"est":0.0032,"lo90":-0.0035,"lo68":-0.0012,"hi68":0.0075,"hi90":0.0105},
{"h":12,"est":0.003,"lo90":-0.004,"lo68":-0.0015,"hi68":0.0075,"hi90":0.01},
{"h":13,"est":0.0038,"lo90":-0.0038,"lo68":-0.0012,"hi68":0.008,"hi90":0.0105},
{"h":14,"est":0.0035,"lo90":-0.0042,"lo68":-0.0015,"hi68":0.008,"hi90":0.011},
{"h":15,"est":0.003,"lo90":-0.0048,"lo68":-0.002,"hi68":0.0075,"hi90":0.0105},
{"h":16,"est":0.0013,"lo90":-0.006,"lo68":-0.0035,"hi68":0.0065,"hi90":0.0095},
{"h":17,"est":0.0005,"lo90":-0.0073,"lo68":-0.0045,"hi68":0.006,"hi90":0.0095},
{"h":18,"est":0.001,"lo90":-0.0068,"lo68":-0.0042,"hi68":0.006,"hi90":0.0095},
{"h":19,"est":0.0022,"lo90":-0.0055,"lo68":-0.003,"hi68":0.007,"hi90":0.01},
{"h":20,"est":0.0015,"lo90":-0.006,"lo68":-0.0035,"hi68":0.0065,"hi90":0.0095},
{"h":21,"est":0.0015,"lo90":-0.006,"lo68":-0.0035,"hi68":0.006,"hi90":0.009},
{"h":22,"est":0.0002,"lo90":-0.007,"lo68":-0.0045,"hi68":0.005,"hi90":0.008},
{"h":23,"est":-0.0008,"lo90":-0.0078,"lo68":-0.0055,"hi68":0.0038,"hi90":0.007},
{"h":24,"est":-0.0005,"lo90":-0.008,"lo68":-0.0055,"hi68":0.0035,"hi90":0.006},
{"h":25,"est":-0.0008,"lo90":-0.0082,"lo68":-0.0058,"hi68":0.0025,"hi90":0.005},
{"h":26,"est":-0.0022,"lo90":-0.0095,"lo68":-0.007,"hi68":0.0012,"hi90":0.0035},
{"h":27,"est":-0.0042,"lo90":-0.0115,"lo68":-0.0088,"hi68":0,"hi90":0.0025},
{"h":28,"est":-0.0052,"lo90":-0.0128,"lo68":-0.0098,"hi68":-0.0005,"hi90":0.0025},
{"h":29,"est":-0.0038,"lo90":-0.0115,"lo68":-0.0085,"hi68":0.0003,"hi90":0.003},
{"h":30,"est":-0.0043,"lo90":-0.0115,"lo68":-0.0088,"hi68":0.0002,"hi90":0.003},
{"h":31,"est":-0.0038,"lo90":-0.011,"lo68":-0.0082,"hi68":0.0002,"hi90":0.0028},
{"h":32,"est":-0.0022,"lo90":-0.0095,"lo68":-0.0068,"hi68":0.0018,"hi90":0.0045},
{"h":33,"est":-0.0038,"lo90":-0.0108,"lo68":-0.0083,"hi68":0.0003,"hi90":0.003},
{"h":34,"est":-0.0032,"lo90":-0.0105,"lo68":-0.0078,"hi68":0.001,"hi90":0.0035},
{"h":35,"est":0.0005,"lo90":-0.006,"lo68":-0.0035,"hi68":0.0038,"hi90":0.006},
{"h":36,"est":0.0003,"lo90":-0.0058,"lo68":-0.0033,"hi68":0.0038,"hi90":0.006},
{"h":37,"est":0.0005,"lo90":-0.0055,"lo68":-0.003,"hi68":0.004,"hi90":0.0062},
{"h":38,"est":0.001,"lo90":-0.005,"lo68":-0.0025,"hi68":0.0048,"hi90":0.007},
{"h":39,"est":0.0003,"lo90":-0.0055,"lo68":-0.003,"hi68":0.0042,"hi90":0.0065},
{"h":40,"est":0.0005,"lo90":-0.0058,"lo68":-0.003,"hi68":0.0045,"hi90":0.007},
{"h":41,"est":0.0001,"lo90":-0.0063,"lo68":-0.0035,"hi68":0.0045,"hi90":0.007},
{"h":42,"est":0.0002,"lo90":-0.0063,"lo68":-0.0035,"hi68":0.0045,"hi90":0.007},
{"h":43,"est":0.0013,"lo90":-0.0055,"lo68":-0.0028,"hi68":0.0055,"hi90":0.008},
{"h":44,"est":0.0025,"lo90":-0.0048,"lo68":-0.002,"hi68":0.0072,"hi90":0.01},
{"h":45,"est":0.0015,"lo90":-0.0058,"lo68":-0.0028,"hi68":0.0065,"hi90":0.0095},
{"h":46,"est":0.0028,"lo90":-0.0045,"lo68":-0.0015,"hi68":0.0075,"hi90":0.01},
{"h":47,"est":0.0045,"lo90":-0.0028,"lo68":0,"hi68":0.009,"hi90":0.012},
{"h":48,"est":0.0055,"lo90":-0.002,"lo68":0.001,"hi68":0.0105,"hi90":0.013}
],
"s4": [
{"h":0,"est":0,"lo90":0,"lo68":0,"hi68":0,"hi90":0},
{"h":1,"est":-0.0005,"lo90":-0.002,"lo68":-0.0015,"hi68":0.0008,"hi90":0.0015},
{"h":2,"est":-0.0002,"lo90":-0.002,"lo68":-0.0015,"hi68":0.0015,"hi90":0.0025},
{"h":3,"est":0.0005,"lo90":-0.002,"lo68":-0.0012,"hi68":0.0025,"hi90":0.0035},
{"h":4,"est":0.0058,"lo90":0.003,"lo68":0.0045,"hi68":0.0075,"hi90":0.0085},
{"h":5,"est":0.004,"lo90":0.001,"lo68":0.002,"hi68":0.006,"hi90":0.0075},
{"h":6,"est":-0.0012,"lo90":-0.0055,"lo68":-0.0038,"hi68":0.0015,"hi90":0.003},
{"h":7,"est":-0.0013,"lo90":-0.0058,"lo68":-0.004,"hi68":0.0015,"hi90":0.003},
{"h":8,"est":0.0006,"lo90":-0.0045,"lo68":-0.0025,"hi68":0.0035,"hi90":0.0055},
{"h":9,"est":0.0003,"lo90":-0.005,"lo68":-0.0028,"hi68":0.0038,"hi90":0.0058},
{"h":10,"est":0.001,"lo90":-0.0045,"lo68":-0.0025,"hi68":0.0045,"hi90":0.0065},
{"h":11,"est":0.0016,"lo90":-0.0045,"lo68":-0.002,"hi68":0.005,"hi90":0.007},
{"h":12,"est":0.001,"lo90":-0.0048,"lo68":-0.0025,"hi68":0.0045,"hi90":0.0065},
{"h":13,"est":0.0012,"lo90":-0.005,"lo68":-0.0025,"hi68":0.005,"hi90":0.007},
{"h":14,"est":0.001,"lo90":-0.0053,"lo68":-0.0028,"hi68":0.0048,"hi90":0.007},
{"h":15,"est":-0.0005,"lo90":-0.007,"lo68":-0.0045,"hi68":0.0038,"hi90":0.006},
{"h":16,"est":0.0008,"lo90":-0.006,"lo68":-0.0035,"hi68":0.005,"hi90":0.0075},
{"h":17,"est":0.0003,"lo90":-0.0075,"lo68":-0.0045,"hi68":0.0053,"hi90":0.008},
{"h":18,"est":0.0028,"lo90":-0.0055,"lo68":-0.002,"hi68":0.0083,"hi90":0.011},
{"h":19,"est":0.0038,"lo90":-0.005,"lo68":-0.0015,"hi68":0.0095,"hi90":0.0125},
{"h":20,"est":0.0043,"lo90":-0.0048,"lo68":-0.0012,"hi68":0.0105,"hi90":0.014},
{"h":21,"est":0.0045,"lo90":-0.005,"lo68":-0.0013,"hi68":0.011,"hi90":0.015},
{"h":22,"est":0.0058,"lo90":-0.005,"lo68":-0.0005,"hi68":0.0125,"hi90":0.0165},
{"h":23,"est":0.0068,"lo90":-0.005,"lo68":0,"hi68":0.0135,"hi90":0.018},
{"h":24,"est":0.0068,"lo90":-0.005,"lo68":0,"hi68":0.014,"hi90":0.0185},
{"h":25,"est":0.0078,"lo90":-0.0045,"lo68":0.0005,"hi68":0.015,"hi90":0.0195},
{"h":26,"est":0.0073,"lo90":-0.005,"lo68":-0.0002,"hi68":0.0152,"hi90":0.02},
{"h":27,"est":0.0075,"lo90":-0.0055,"lo68":-0.0003,"hi68":0.0155,"hi90":0.0205},
{"h":28,"est":0.0078,"lo90":-0.006,"lo68":-0.0005,"hi68":0.016,"hi90":0.0215},
{"h":29,"est":0.0083,"lo90":-0.006,"lo68":0,"hi68":0.017,"hi90":0.023},
{"h":30,"est":0.006,"lo90":-0.0085,"lo68":-0.0025,"hi68":0.0155,"hi90":0.0215},
{"h":31,"est":0.0055,"lo90":-0.0105,"lo68":-0.0042,"hi68":0.0153,"hi90":0.0215},
{"h":32,"est":0.0065,"lo90":-0.0098,"lo68":-0.0033,"hi68":0.0163,"hi90":0.0225},
{"h":33,"est":0.007,"lo90":-0.0105,"lo68":-0.0032,"hi68":0.017,"hi90":0.0235},
{"h":34,"est":0.0073,"lo90":-0.0115,"lo68":-0.003,"hi68":0.0175,"hi90":0.024},
{"h":35,"est":0.0068,"lo90":-0.0125,"lo68":-0.0035,"hi68":0.017,"hi90":0.0235},
{"h":36,"est":0.004,"lo90":-0.014,"lo68":-0.0065,"hi68":0.0145,"hi90":0.021},
{"h":37,"est":0.003,"lo90":-0.0155,"lo68":-0.0078,"hi68":0.0138,"hi90":0.0205},
{"h":38,"est":0.0035,"lo90":-0.0165,"lo68":-0.0073,"hi68":0.014,"hi90":0.021},
{"h":39,"est":0.0028,"lo90":-0.0175,"lo68":-0.008,"hi68":0.0133,"hi90":0.02},
{"h":40,"est":0.0012,"lo90":-0.019,"lo68":-0.0095,"hi68":0.012,"hi90":0.019},
{"h":41,"est":0.0005,"lo90":-0.0192,"lo68":-0.0105,"hi68":0.0113,"hi90":0.0185},
{"h":42,"est":-0.0003,"lo90":-0.0195,"lo68":-0.0115,"hi68":0.0108,"hi90":0.019},
{"h":43,"est":0.0008,"lo90":-0.018,"lo68":-0.01,"hi68":0.0115,"hi90":0.0195},
{"h":44,"est":0.0005,"lo90":-0.0185,"lo68":-0.0102,"hi68":0.0112,"hi90":0.019},
{"h":45,"est":-0.0015,"lo90":-0.0195,"lo68":-0.0115,"hi68":0.0088,"hi90":0.0155},
{"h":46,"est":-0.0025,"lo90":-0.02,"lo68":-0.0125,"hi68":0.008,"hi90":0.015},
{"h":47,"est":-0.001,"lo90":-0.019,"lo68":-0.011,"hi68":0.0095,"hi90":0.0165},
{"h":48,"est":-0.005,"lo90":-0.023,"lo68":-0.0155,"hi68":0.0065,"hi90":0.014}
]
},
"vconcat": [
{"title": {"text": "HFI Monetary Tightening (10Y minus FFR), 1990-2022", "color": "#000", "offset": 19, "anchor": "middle", "frame": "bounds"}, "bounds": "flush", "spacing": 68, "hconcat": [
 {"title": {"text": "Unemployment Rate"}, "width": 299, "height": 264, "data": {"name": "u1"},
  "encoding": {"x": {"field": "h", "type": "quantitative", "scale": {"domain": [-1.3, 49.36], "nice": false, "zero": false}, "axis": {"values": [0, 48], "title": "Horizon (months)"}}},
  "layer": [
   {"mark": {"type": "area", "fill": "#97c8f9", "stroke": "#55a5f2", "strokeWidth": 0.8}, "encoding": {"y": {"field": "lo90", "type": "quantitative", "title": "Percent", "scale": {"domain": [-4.29, 4.77], "nice": false, "zero": false}, "axis": {"values": [-4, -2, 0, 2, 4], "labelExpr": "toString(datum.value)"}}, "y2": {"field": "hi90"}}},
   {"mark": {"type": "area", "fill": "#cbe5fe", "stroke": "#55a5f2", "strokeWidth": 0.8}, "encoding": {"y": {"field": "lo68", "type": "quantitative", "title": "Percent"}, "y2": {"field": "hi68"}}},
   {"data": {"values": [{}]}, "mark": {"type": "rule", "color": "#000", "strokeWidth": 1.1}, "encoding": {"x": {"datum": 0}, "x2": {"datum": 48}, "y": {"datum": 0}}},
   {"mark": {"type": "line", "color": "#000", "strokeWidth": 1, "point": {"filled": true, "fill": "#6a6a6a", "stroke": "#111", "strokeWidth": 0.7, "size": 18}}, "encoding": {"y": {"field": "est", "type": "quantitative", "title": "Percent"}}}
  ]},
 {"title": {"text": "Demand Contribution", "dy": 4}, "width": 299, "height": 264, "data": {"name": "d1"},
  "encoding": {"x": {"field": "h", "type": "quantitative", "scale": {"domain": [-1.3, 49.36], "nice": false, "zero": false}, "axis": {"values": [0, 48], "title": "Horizon (months)"}}},
  "layer": [
   {"mark": {"type": "area", "fill": "#97c8f9", "stroke": "#55a5f2", "strokeWidth": 0.8}, "encoding": {"y": {"field": "lo90", "type": "quantitative", "title": "Percent", "scale": {"domain": [-0.0425, 0.0427], "nice": false, "zero": false}, "axis": {"values": [-0.04, -0.02, 0, 0.02, 0.04], "labelExpr": "datum.value == 0 ? '0' : replace(toString(datum.value), '0.', '.')"}}, "y2": {"field": "hi90"}}},
   {"mark": {"type": "area", "fill": "#cbe5fe", "stroke": "#55a5f2", "strokeWidth": 0.8}, "encoding": {"y": {"field": "lo68", "type": "quantitative", "title": "Percent"}, "y2": {"field": "hi68"}}},
   {"data": {"values": [{}]}, "mark": {"type": "rule", "color": "#000", "strokeWidth": 1.1}, "encoding": {"x": {"datum": 0}, "x2": {"datum": 48}, "y": {"datum": 0}}},
   {"mark": {"type": "line", "color": "#000", "strokeWidth": 1, "point": {"filled": true, "fill": "#6a6a6a", "stroke": "#111", "strokeWidth": 0.7, "size": 18}}, "encoding": {"y": {"field": "est", "type": "quantitative", "title": "Percent"}}}
  ]},
 {"title": {"text": "Supply Contribution", "dy": 4}, "width": 299, "height": 264, "data": {"name": "s1"},
  "encoding": {"x": {"field": "h", "type": "quantitative", "scale": {"domain": [-1.3, 49.36], "nice": false, "zero": false}, "axis": {"values": [0, 48], "title": "Horizon (months)"}}},
  "layer": [
   {"mark": {"type": "area", "fill": "#97c8f9", "stroke": "#55a5f2", "strokeWidth": 0.8}, "encoding": {"y": {"field": "lo90", "type": "quantitative", "title": "Percent", "scale": {"domain": [-0.0425, 0.0427], "nice": false, "zero": false}, "axis": {"values": [-0.04, -0.02, 0, 0.02, 0.04], "labelExpr": "datum.value == 0 ? '0' : replace(toString(datum.value), '0.', '.')"}}, "y2": {"field": "hi90"}}},
   {"mark": {"type": "area", "fill": "#cbe5fe", "stroke": "#55a5f2", "strokeWidth": 0.8}, "encoding": {"y": {"field": "lo68", "type": "quantitative", "title": "Percent"}, "y2": {"field": "hi68"}}},
   {"data": {"values": [{}]}, "mark": {"type": "rule", "color": "#000", "strokeWidth": 1.1}, "encoding": {"x": {"datum": 0}, "x2": {"datum": 48}, "y": {"datum": 0}}},
   {"mark": {"type": "line", "color": "#000", "strokeWidth": 1, "point": {"filled": true, "fill": "#6a6a6a", "stroke": "#111", "strokeWidth": 0.7, "size": 18}}, "encoding": {"y": {"field": "est", "type": "quantitative", "title": "Percent"}}}
  ]}
]},
{"title": {"text": "HFI Monetary Tightening (10Y minus FFR), 2008-2019", "color": "#000", "offset": 19, "anchor": "middle", "frame": "bounds"}, "bounds": "flush", "spacing": 68, "hconcat": [
 {"title": {"text": "Unemployment Rate"}, "width": 299, "height": 264, "data": {"name": "u2"},
  "encoding": {"x": {"field": "h", "type": "quantitative", "scale": {"domain": [-1.3, 49.36], "nice": false, "zero": false}, "axis": {"values": [0, 48], "title": "Horizon (months)"}}},
  "layer": [
   {"mark": {"type": "area", "fill": "#97c8f9", "stroke": "#55a5f2", "strokeWidth": 0.8}, "encoding": {"y": {"field": "lo90", "type": "quantitative", "title": "Percent", "scale": {"domain": [-2.25, 6.27], "nice": false, "zero": false}, "axis": {"values": [-2, 0, 2, 4, 6], "labelExpr": "toString(datum.value)"}}, "y2": {"field": "hi90"}}},
   {"mark": {"type": "area", "fill": "#cbe5fe", "stroke": "#55a5f2", "strokeWidth": 0.8}, "encoding": {"y": {"field": "lo68", "type": "quantitative", "title": "Percent"}, "y2": {"field": "hi68"}}},
   {"data": {"values": [{}]}, "mark": {"type": "rule", "color": "#000", "strokeWidth": 1.1}, "encoding": {"x": {"datum": 0}, "x2": {"datum": 48}, "y": {"datum": 0}}},
   {"mark": {"type": "line", "color": "#000", "strokeWidth": 1, "point": {"filled": true, "fill": "#6a6a6a", "stroke": "#111", "strokeWidth": 0.7, "size": 18}}, "encoding": {"y": {"field": "est", "type": "quantitative", "title": "Percent"}}}
  ]},
 {"title": {"text": "Demand Contribution", "dy": 4}, "width": 299, "height": 264, "data": {"name": "d2"},
  "encoding": {"x": {"field": "h", "type": "quantitative", "scale": {"domain": [-1.3, 49.36], "nice": false, "zero": false}, "axis": {"values": [0, 48], "title": "Horizon (months)"}}},
  "layer": [
   {"mark": {"type": "area", "fill": "#97c8f9", "stroke": "#55a5f2", "strokeWidth": 0.8}, "encoding": {"y": {"field": "lo90", "type": "quantitative", "title": "Percent", "scale": {"domain": [-0.0425, 0.0427], "nice": false, "zero": false}, "axis": {"values": [-0.04, -0.02, 0, 0.02, 0.04], "labelExpr": "datum.value == 0 ? '0' : replace(toString(datum.value), '0.', '.')"}}, "y2": {"field": "hi90"}}},
   {"mark": {"type": "area", "fill": "#cbe5fe", "stroke": "#55a5f2", "strokeWidth": 0.8}, "encoding": {"y": {"field": "lo68", "type": "quantitative", "title": "Percent"}, "y2": {"field": "hi68"}}},
   {"data": {"values": [{}]}, "mark": {"type": "rule", "color": "#000", "strokeWidth": 1.1}, "encoding": {"x": {"datum": 0}, "x2": {"datum": 48}, "y": {"datum": 0}}},
   {"mark": {"type": "line", "color": "#000", "strokeWidth": 1, "point": {"filled": true, "fill": "#6a6a6a", "stroke": "#111", "strokeWidth": 0.7, "size": 18}}, "encoding": {"y": {"field": "est", "type": "quantitative", "title": "Percent"}}}
  ]},
 {"title": {"text": "Supply Contribution", "dy": 4}, "width": 299, "height": 264, "data": {"name": "s2"},
  "encoding": {"x": {"field": "h", "type": "quantitative", "scale": {"domain": [-1.3, 49.36], "nice": false, "zero": false}, "axis": {"values": [0, 48], "title": "Horizon (months)"}}},
  "layer": [
   {"mark": {"type": "area", "fill": "#97c8f9", "stroke": "#55a5f2", "strokeWidth": 0.8}, "encoding": {"y": {"field": "lo90", "type": "quantitative", "title": "Percent", "scale": {"domain": [-0.0425, 0.0427], "nice": false, "zero": false}, "axis": {"values": [-0.04, -0.02, 0, 0.02, 0.04], "labelExpr": "datum.value == 0 ? '0' : replace(toString(datum.value), '0.', '.')"}}, "y2": {"field": "hi90"}}},
   {"mark": {"type": "area", "fill": "#cbe5fe", "stroke": "#55a5f2", "strokeWidth": 0.8}, "encoding": {"y": {"field": "lo68", "type": "quantitative", "title": "Percent"}, "y2": {"field": "hi68"}}},
   {"data": {"values": [{}]}, "mark": {"type": "rule", "color": "#000", "strokeWidth": 1.1}, "encoding": {"x": {"datum": 0}, "x2": {"datum": 48}, "y": {"datum": 0}}},
   {"mark": {"type": "line", "color": "#000", "strokeWidth": 1, "point": {"filled": true, "fill": "#6a6a6a", "stroke": "#111", "strokeWidth": 0.7, "size": 18}}, "encoding": {"y": {"field": "est", "type": "quantitative", "title": "Percent"}}}
  ]}
]},
{"title": {"text": "HFI Monetary Tightening (5Y minus FFR), 1990-2022", "color": "#000", "offset": 19, "anchor": "middle", "frame": "bounds"}, "bounds": "flush", "spacing": 68, "hconcat": [
 {"title": {"text": "Unemployment Rate"}, "width": 299, "height": 264, "data": {"name": "u3"},
  "encoding": {"x": {"field": "h", "type": "quantitative", "scale": {"domain": [-1.3, 49.36], "nice": false, "zero": false}, "axis": {"values": [0, 48], "title": "Horizon (months)"}}},
  "layer": [
   {"mark": {"type": "area", "fill": "#97c8f9", "stroke": "#55a5f2", "strokeWidth": 0.8}, "encoding": {"y": {"field": "lo90", "type": "quantitative", "title": "Percent", "scale": {"domain": [-4.26, 4.27], "nice": false, "zero": false}, "axis": {"values": [-4, -2, 0, 2, 4], "labelExpr": "toString(datum.value)"}}, "y2": {"field": "hi90"}}},
   {"mark": {"type": "area", "fill": "#cbe5fe", "stroke": "#55a5f2", "strokeWidth": 0.8}, "encoding": {"y": {"field": "lo68", "type": "quantitative", "title": "Percent"}, "y2": {"field": "hi68"}}},
   {"data": {"values": [{}]}, "mark": {"type": "rule", "color": "#000", "strokeWidth": 1.1}, "encoding": {"x": {"datum": 0}, "x2": {"datum": 48}, "y": {"datum": 0}}},
   {"mark": {"type": "line", "color": "#000", "strokeWidth": 1, "point": {"filled": true, "fill": "#6a6a6a", "stroke": "#111", "strokeWidth": 0.7, "size": 18}}, "encoding": {"y": {"field": "est", "type": "quantitative", "title": "Percent"}}}
  ]},
 {"title": {"text": "Demand Contribution", "dy": 4}, "width": 299, "height": 264, "data": {"name": "d3"},
  "encoding": {"x": {"field": "h", "type": "quantitative", "scale": {"domain": [-1.3, 49.36], "nice": false, "zero": false}, "axis": {"values": [0, 48], "title": "Horizon (months)"}}},
  "layer": [
   {"mark": {"type": "area", "fill": "#97c8f9", "stroke": "#55a5f2", "strokeWidth": 0.8}, "encoding": {"y": {"field": "lo90", "type": "quantitative", "title": "Percent", "scale": {"domain": [-0.0425, 0.0427], "nice": false, "zero": false}, "axis": {"values": [-0.04, -0.02, 0, 0.02, 0.04], "labelExpr": "datum.value == 0 ? '0' : replace(toString(datum.value), '0.', '.')"}}, "y2": {"field": "hi90"}}},
   {"mark": {"type": "area", "fill": "#cbe5fe", "stroke": "#55a5f2", "strokeWidth": 0.8}, "encoding": {"y": {"field": "lo68", "type": "quantitative", "title": "Percent"}, "y2": {"field": "hi68"}}},
   {"data": {"values": [{}]}, "mark": {"type": "rule", "color": "#000", "strokeWidth": 1.1}, "encoding": {"x": {"datum": 0}, "x2": {"datum": 48}, "y": {"datum": 0}}},
   {"mark": {"type": "line", "color": "#000", "strokeWidth": 1, "point": {"filled": true, "fill": "#6a6a6a", "stroke": "#111", "strokeWidth": 0.7, "size": 18}}, "encoding": {"y": {"field": "est", "type": "quantitative", "title": "Percent"}}}
  ]},
 {"title": {"text": "Supply Contribution", "dy": 4}, "width": 299, "height": 264, "data": {"name": "s3"},
  "encoding": {"x": {"field": "h", "type": "quantitative", "scale": {"domain": [-1.3, 49.36], "nice": false, "zero": false}, "axis": {"values": [0, 48], "title": "Horizon (months)"}}},
  "layer": [
   {"mark": {"type": "area", "fill": "#97c8f9", "stroke": "#55a5f2", "strokeWidth": 0.8}, "encoding": {"y": {"field": "lo90", "type": "quantitative", "title": "Percent", "scale": {"domain": [-0.0425, 0.0427], "nice": false, "zero": false}, "axis": {"values": [-0.04, -0.02, 0, 0.02, 0.04], "labelExpr": "datum.value == 0 ? '0' : replace(toString(datum.value), '0.', '.')"}}, "y2": {"field": "hi90"}}},
   {"mark": {"type": "area", "fill": "#cbe5fe", "stroke": "#55a5f2", "strokeWidth": 0.8}, "encoding": {"y": {"field": "lo68", "type": "quantitative", "title": "Percent"}, "y2": {"field": "hi68"}}},
   {"data": {"values": [{}]}, "mark": {"type": "rule", "color": "#000", "strokeWidth": 1.1}, "encoding": {"x": {"datum": 0}, "x2": {"datum": 48}, "y": {"datum": 0}}},
   {"mark": {"type": "line", "color": "#000", "strokeWidth": 1, "point": {"filled": true, "fill": "#6a6a6a", "stroke": "#111", "strokeWidth": 0.7, "size": 18}}, "encoding": {"y": {"field": "est", "type": "quantitative", "title": "Percent"}}}
  ]}
]},
{"title": {"text": "HFI Monetary Tightening (FFR), 1990-2007", "color": "#000", "offset": 19, "anchor": "middle", "frame": "bounds"}, "bounds": "flush", "spacing": 68, "hconcat": [
 {"title": {"text": "Unemployment Rate"}, "width": 299, "height": 264, "data": {"name": "u4"},
  "encoding": {"x": {"field": "h", "type": "quantitative", "scale": {"domain": [-1.3, 49.36], "nice": false, "zero": false}, "axis": {"values": [0, 48], "title": "Horizon (months)"}}},
  "layer": [
   {"mark": {"type": "area", "fill": "#97c8f9", "stroke": "#55a5f2", "strokeWidth": 0.8}, "encoding": {"y": {"field": "lo90", "type": "quantitative", "title": "Percent", "scale": {"domain": [-2.55, 2.59], "nice": false, "zero": false}, "axis": {"values": [-2, -1, 0, 1, 2], "labelExpr": "toString(datum.value)"}}, "y2": {"field": "hi90"}}},
   {"mark": {"type": "area", "fill": "#cbe5fe", "stroke": "#55a5f2", "strokeWidth": 0.8}, "encoding": {"y": {"field": "lo68", "type": "quantitative", "title": "Percent"}, "y2": {"field": "hi68"}}},
   {"data": {"values": [{}]}, "mark": {"type": "rule", "color": "#000", "strokeWidth": 1.1}, "encoding": {"x": {"datum": 0}, "x2": {"datum": 48}, "y": {"datum": 0}}},
   {"mark": {"type": "line", "color": "#000", "strokeWidth": 1, "point": {"filled": true, "fill": "#6a6a6a", "stroke": "#111", "strokeWidth": 0.7, "size": 18}}, "encoding": {"y": {"field": "est", "type": "quantitative", "title": "Percent"}}}
  ]},
 {"title": {"text": "Demand Contribution", "dy": 4}, "width": 299, "height": 264, "data": {"name": "d4"},
  "encoding": {"x": {"field": "h", "type": "quantitative", "scale": {"domain": [-1.3, 49.36], "nice": false, "zero": false}, "axis": {"values": [0, 48], "title": "Horizon (months)"}}},
  "layer": [
   {"mark": {"type": "area", "fill": "#97c8f9", "stroke": "#55a5f2", "strokeWidth": 0.8}, "encoding": {"y": {"field": "lo90", "type": "quantitative", "title": "Percent", "scale": {"domain": [-0.0424, 0.0429], "nice": false, "zero": false}, "axis": {"values": [-0.04, -0.02, 0, 0.02, 0.04], "labelExpr": "datum.value == 0 ? '0' : replace(toString(datum.value), '0.', '.')"}}, "y2": {"field": "hi90"}}},
   {"mark": {"type": "area", "fill": "#cbe5fe", "stroke": "#55a5f2", "strokeWidth": 0.8}, "encoding": {"y": {"field": "lo68", "type": "quantitative", "title": "Percent"}, "y2": {"field": "hi68"}}},
   {"data": {"values": [{}]}, "mark": {"type": "rule", "color": "#000", "strokeWidth": 1.1}, "encoding": {"x": {"datum": 0}, "x2": {"datum": 48}, "y": {"datum": 0}}},
   {"mark": {"type": "line", "color": "#000", "strokeWidth": 1, "point": {"filled": true, "fill": "#6a6a6a", "stroke": "#111", "strokeWidth": 0.7, "size": 18}}, "encoding": {"y": {"field": "est", "type": "quantitative", "title": "Percent"}}}
  ]},
 {"title": {"text": "Supply Contribution", "dy": 4}, "width": 299, "height": 264, "data": {"name": "s4"},
  "encoding": {"x": {"field": "h", "type": "quantitative", "scale": {"domain": [-1.3, 49.36], "nice": false, "zero": false}, "axis": {"values": [0, 48], "title": "Horizon (months)"}}},
  "layer": [
   {"mark": {"type": "area", "fill": "#97c8f9", "stroke": "#55a5f2", "strokeWidth": 0.8}, "encoding": {"y": {"field": "lo90", "type": "quantitative", "title": "Percent", "scale": {"domain": [-0.0424, 0.0429], "nice": false, "zero": false}, "axis": {"values": [-0.04, -0.02, 0, 0.02, 0.04], "labelExpr": "datum.value == 0 ? '0' : replace(toString(datum.value), '0.', '.')"}}, "y2": {"field": "hi90"}}},
   {"mark": {"type": "area", "fill": "#cbe5fe", "stroke": "#55a5f2", "strokeWidth": 0.8}, "encoding": {"y": {"field": "lo68", "type": "quantitative", "title": "Percent"}, "y2": {"field": "hi68"}}},
   {"data": {"values": [{}]}, "mark": {"type": "rule", "color": "#000", "strokeWidth": 1.1}, "encoding": {"x": {"datum": 0}, "x2": {"datum": 48}, "y": {"datum": 0}}},
   {"mark": {"type": "line", "color": "#000", "strokeWidth": 1, "point": {"filled": true, "fill": "#6a6a6a", "stroke": "#111", "strokeWidth": 0.7, "size": 18}}, "encoding": {"y": {"field": "est", "type": "quantitative", "title": "Percent"}}}
  ]}
]}
]
}
